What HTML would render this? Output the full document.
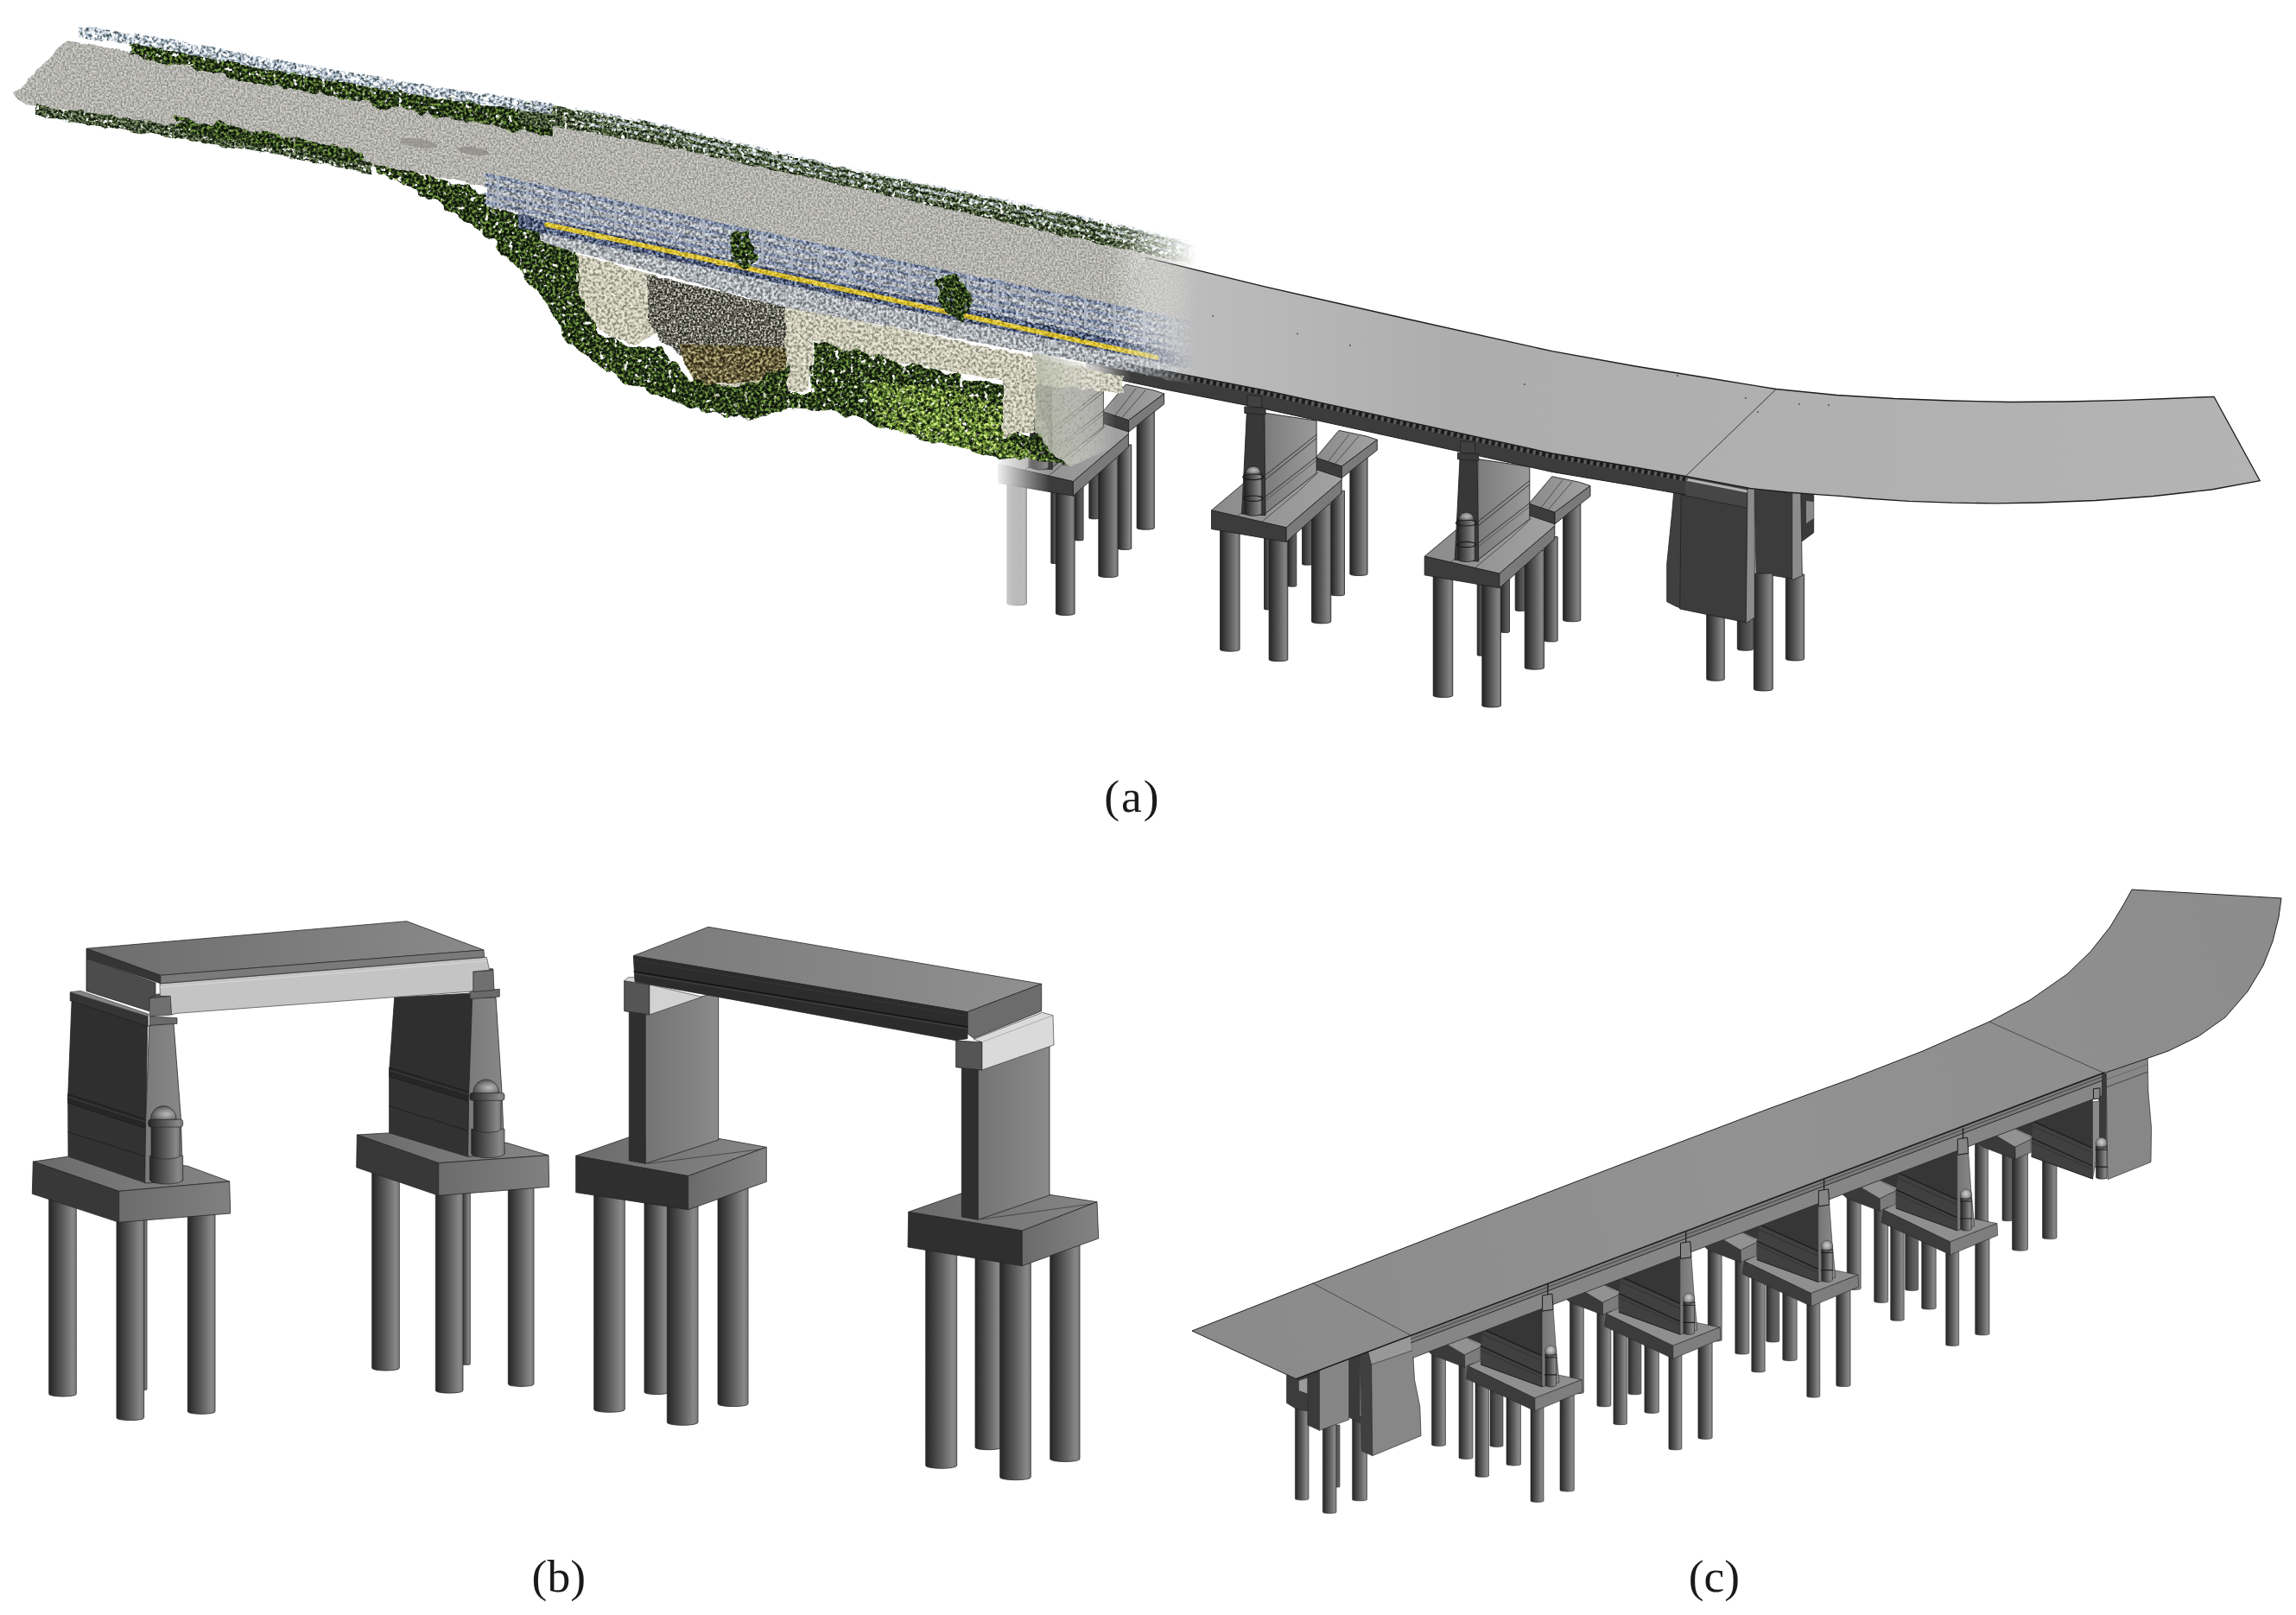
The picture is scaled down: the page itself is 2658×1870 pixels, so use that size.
<!DOCTYPE html>
<html><head><meta charset="utf-8"><title>Figure</title>
<style>
html,body{margin:0;padding:0;background:#fff;}
body{width:2658px;height:1870px;overflow:hidden;font-family:"Liberation Serif",serif;}
svg{display:block;position:absolute;left:0;top:0;}
text{font-family:"Liberation Serif",serif;fill:#1a1a1a;}
</style></head><body>
<svg width="2658" height="1870" viewBox="0 0 2658 1870">
<defs>

<linearGradient id="pile" x1="0" y1="0" x2="1" y2="0">
<stop offset="0" stop-color="#262626"/><stop offset="0.1" stop-color="#303030"/><stop offset="0.5" stop-color="#5c5c5c"/><stop offset="0.86" stop-color="#888888"/><stop offset="1" stop-color="#7a7a7a"/>
</linearGradient>
<radialGradient id="dome" cx="0.62" cy="0.6" r="0.65">
<stop offset="0" stop-color="#bababa"/><stop offset="0.45" stop-color="#8c8c8c"/><stop offset="1" stop-color="#4a4a4a"/>
</radialGradient>
<linearGradient id="topA" x1="0" y1="0" x2="1" y2="0">
<stop offset="0" stop-color="#6a6a6a"/><stop offset="1" stop-color="#868686"/>
</linearGradient>
<linearGradient id="sideA" x1="0" y1="0" x2="1" y2="0">
<stop offset="0" stop-color="#6c6c6c"/><stop offset="1" stop-color="#808080"/>
</linearGradient>
<linearGradient id="sideB" x1="0" y1="0" x2="1" y2="0">
<stop offset="0" stop-color="#6a6a6a"/><stop offset="1" stop-color="#848484"/>
</linearGradient>
<linearGradient id="pierF" x1="0" y1="0" x2="1" y2="0">
<stop offset="0" stop-color="#7a7a7a"/><stop offset="1" stop-color="#888888"/>
</linearGradient>
<linearGradient id="pierB" x1="0" y1="0" x2="1" y2="0">
<stop offset="0" stop-color="#747474"/><stop offset="1" stop-color="#8a8a8a"/>
</linearGradient>
<linearGradient id="deckA" x1="0" y1="0" x2="1" y2="0">
<stop offset="0" stop-color="#6c6c6c"/><stop offset="1" stop-color="#8a8a8a"/>
</linearGradient>
<linearGradient id="deckB" x1="0" y1="0" x2="1" y2="0">
<stop offset="0" stop-color="#7a7a7a"/><stop offset="1" stop-color="#909090"/>
</linearGradient>

<linearGradient id="pileD" x1="0" y1="0" x2="1" y2="0">
<stop offset="0" stop-color="#2a2a2a"/><stop offset="0.5" stop-color="#555"/><stop offset="1" stop-color="#6a6a6a"/>
</linearGradient>
<linearGradient id="cface" x1="0" y1="0" x2="1" y2="0">
<stop offset="0" stop-color="#757575"/><stop offset="1" stop-color="#8c8c8c"/>
</linearGradient>
<radialGradient id="domeC" cx="0.5" cy="0.4" r="0.6">
<stop offset="0" stop-color="#cfcfcf"/><stop offset="0.5" stop-color="#a0a0a0"/><stop offset="1" stop-color="#555"/>
</radialGradient>
<linearGradient id="deckC" gradientUnits="userSpaceOnUse" x1="1380" y1="1500" x2="2640" y2="1100">
<stop offset="0" stop-color="#8a8a8a"/><stop offset="0.5" stop-color="#929292"/><stop offset="1" stop-color="#8c8c8c"/>
</linearGradient>

<linearGradient id="pileA" x1="0" y1="0" x2="1" y2="0">
<stop offset="0" stop-color="#242424"/><stop offset="0.12" stop-color="#303030"/><stop offset="0.5" stop-color="#5a5a5a"/><stop offset="0.86" stop-color="#848484"/><stop offset="1" stop-color="#707070"/>
</linearGradient>
<linearGradient id="pileAD" x1="0" y1="0" x2="1" y2="0">
<stop offset="0" stop-color="#262626"/><stop offset="0.5" stop-color="#4c4c4c"/><stop offset="1" stop-color="#666"/>
</linearGradient>
<radialGradient id="domeA" cx="0.55" cy="0.5" r="0.6">
<stop offset="0" stop-color="#bdbdbd"/><stop offset="0.5" stop-color="#909090"/><stop offset="1" stop-color="#444"/>
</radialGradient>
<linearGradient id="ftopA" x1="0" y1="0" x2="1" y2="0">
<stop offset="0" stop-color="#8a8a8a"/><stop offset="1" stop-color="#a2a2a2"/>
</linearGradient>
<linearGradient id="wallA" x1="0" y1="0" x2="1" y2="0">
<stop offset="0" stop-color="#7c7c7c"/><stop offset="1" stop-color="#9a9a9a"/>
</linearGradient>
<linearGradient id="girderA" gradientUnits="userSpaceOnUse" x1="1240" y1="0" x2="1310" y2="0">
<stop offset="0" stop-color="#3c3c3c" stop-opacity="0"/><stop offset="1" stop-color="#3c3c3c" stop-opacity="1"/>
</linearGradient>
<linearGradient id="lineFade" gradientUnits="userSpaceOnUse" x1="1240" y1="0" x2="1310" y2="0">
<stop offset="0" stop-color="#1c1c1c" stop-opacity="0"/><stop offset="1" stop-color="#1c1c1c" stop-opacity="1"/>
</linearGradient>
<linearGradient id="deckA1" gradientUnits="userSpaceOnUse" x1="1285" y1="0" x2="2620" y2="0">
<stop offset="0" stop-color="#c4c4c4" stop-opacity="0"/><stop offset="0.075" stop-color="#bcbcbc" stop-opacity="1"/><stop offset="0.3" stop-color="#adadad"/><stop offset="1" stop-color="#b4b4b4"/>
</linearGradient>
<linearGradient id="fadeDeckG" gradientUnits="userSpaceOnUse" x1="1270" y1="0" x2="1360" y2="0">
<stop offset="0" stop-color="#000"/><stop offset="1" stop-color="#fff"/>
</linearGradient>
<mask id="fadeDeck" maskUnits="userSpaceOnUse" x="1200" y="200" width="1458" height="500"><rect x="1200" y="200" width="1458" height="500" fill="url(#fadeDeckG)"/></mask>
<linearGradient id="whiteFade" gradientUnits="userSpaceOnUse" x1="1150" y1="0" x2="1215" y2="0">
<stop offset="0" stop-color="#fff" stop-opacity="1"/><stop offset="1" stop-color="#fff" stop-opacity="0"/>
</linearGradient>
<filter id="fRoad" x="-5%" y="-5%" width="110%" height="110%" color-interpolation-filters="sRGB"><feTurbulence type="fractalNoise" baseFrequency="0.06" numOctaves="2" seed="14" result="d"/><feDisplacementMap in="SourceGraphic" in2="d" scale="5" xChannelSelector="R" yChannelSelector="G" result="shape"/><feTurbulence type="fractalNoise" baseFrequency="0.45" numOctaves="2" seed="3" result="n"/><feColorMatrix in="n" type="matrix" values="3.0 0 0 0 -1.0  3.0 0 0 0 -1.0  3.0 0 0 0 -1.0  0 0 0 0 1" result="g"/><feComponentTransfer in="g" result="col"><feFuncR type="table" tableValues="0.58 0.66 0.71 0.75 0.82"/><feFuncG type="table" tableValues="0.58 0.66 0.705 0.745 0.815"/><feFuncB type="table" tableValues="0.56 0.635 0.685 0.725 0.795"/></feComponentTransfer><feComposite in="col" in2="shape" operator="in" result="out"/></filter><filter id="fVeg" x="-5%" y="-5%" width="110%" height="110%" color-interpolation-filters="sRGB"><feTurbulence type="fractalNoise" baseFrequency="0.06" numOctaves="2" seed="19" result="d"/><feDisplacementMap in="SourceGraphic" in2="d" scale="14" xChannelSelector="R" yChannelSelector="G" result="shape"/><feTurbulence type="fractalNoise" baseFrequency="0.3" numOctaves="2" seed="8" result="n"/><feColorMatrix in="n" type="matrix" values="3.0 0 0 0 -1.0  3.0 0 0 0 -1.0  3.0 0 0 0 -1.0  0 0 0 0 1" result="g"/><feComponentTransfer in="g" result="col"><feFuncR type="table" tableValues="0.05 0.09 0.15 0.26 0.46"/><feFuncG type="table" tableValues="0.07 0.13 0.22 0.37 0.60"/><feFuncB type="table" tableValues="0.04 0.07 0.10 0.15 0.26"/></feComponentTransfer><feComposite in="col" in2="shape" operator="in" result="out"/><feTurbulence type="fractalNoise" baseFrequency="0.18" numOctaves="2" seed="13" result="h"/><feColorMatrix in="h" type="matrix" values="0 0 0 0 0  0 0 0 0 0  0 0 0 0 0  8 0 0 0 -2.0" result="ha"/><feComposite in="out" in2="ha" operator="in"/></filter><filter id="fVegL" x="-5%" y="-5%" width="110%" height="110%" color-interpolation-filters="sRGB"><feTurbulence type="fractalNoise" baseFrequency="0.06" numOctaves="2" seed="29" result="d"/><feDisplacementMap in="SourceGraphic" in2="d" scale="14" xChannelSelector="R" yChannelSelector="G" result="shape"/><feTurbulence type="fractalNoise" baseFrequency="0.3" numOctaves="2" seed="18" result="n"/><feColorMatrix in="n" type="matrix" values="3.0 0 0 0 -1.0  3.0 0 0 0 -1.0  3.0 0 0 0 -1.0  0 0 0 0 1" result="g"/><feComponentTransfer in="g" result="col"><feFuncR type="table" tableValues="0.20 0.35 0.50 0.65 0.85"/><feFuncG type="table" tableValues="0.30 0.48 0.65 0.78 0.92"/><feFuncB type="table" tableValues="0.10 0.18 0.25 0.35 0.55"/></feComponentTransfer><feComposite in="col" in2="shape" operator="in" result="out"/><feTurbulence type="fractalNoise" baseFrequency="0.18" numOctaves="2" seed="23" result="h"/><feColorMatrix in="h" type="matrix" values="0 0 0 0 0  0 0 0 0 0  0 0 0 0 0  6 0 0 0 -2.4000000000000004" result="ha"/><feComposite in="out" in2="ha" operator="in"/></filter><filter id="fVegD" x="-5%" y="-5%" width="110%" height="110%" color-interpolation-filters="sRGB"><feTurbulence type="fractalNoise" baseFrequency="0.06" numOctaves="2" seed="39" result="d"/><feDisplacementMap in="SourceGraphic" in2="d" scale="8" xChannelSelector="R" yChannelSelector="G" result="shape"/><feTurbulence type="fractalNoise" baseFrequency="0.35" numOctaves="2" seed="28" result="n"/><feColorMatrix in="n" type="matrix" values="3.0 0 0 0 -1.0  3.0 0 0 0 -1.0  3.0 0 0 0 -1.0  0 0 0 0 1" result="g"/><feComponentTransfer in="g" result="col"><feFuncR type="table" tableValues="0.08 0.15 0.25 0.36 0.55"/><feFuncG type="table" tableValues="0.10 0.20 0.32 0.44 0.60"/><feFuncB type="table" tableValues="0.07 0.12 0.20 0.30 0.45"/></feComponentTransfer><feComposite in="col" in2="shape" operator="in" result="out"/><feTurbulence type="fractalNoise" baseFrequency="0.21" numOctaves="2" seed="33" result="h"/><feColorMatrix in="h" type="matrix" values="0 0 0 0 0  0 0 0 0 0  0 0 0 0 0  8 0 0 0 -2.16" result="ha"/><feComposite in="out" in2="ha" operator="in"/></filter><filter id="fRock" x="-5%" y="-5%" width="110%" height="110%" color-interpolation-filters="sRGB"><feTurbulence type="fractalNoise" baseFrequency="0.06" numOctaves="2" seed="49" result="d"/><feDisplacementMap in="SourceGraphic" in2="d" scale="6" xChannelSelector="R" yChannelSelector="G" result="shape"/><feTurbulence type="fractalNoise" baseFrequency="0.3" numOctaves="2" seed="38" result="n"/><feColorMatrix in="n" type="matrix" values="3.0 0 0 0 -1.0  3.0 0 0 0 -1.0  3.0 0 0 0 -1.0  0 0 0 0 1" result="g"/><feComponentTransfer in="g" result="col"><feFuncR type="table" tableValues="0.55 0.70 0.80 0.86 0.92"/><feFuncG type="table" tableValues="0.55 0.70 0.79 0.85 0.91"/><feFuncB type="table" tableValues="0.48 0.62 0.72 0.78 0.85"/></feComponentTransfer><feComposite in="col" in2="shape" operator="in" result="out"/></filter><filter id="fDark" x="-5%" y="-5%" width="110%" height="110%" color-interpolation-filters="sRGB"><feTurbulence type="fractalNoise" baseFrequency="0.06" numOctaves="2" seed="59" result="d"/><feDisplacementMap in="SourceGraphic" in2="d" scale="6" xChannelSelector="R" yChannelSelector="G" result="shape"/><feTurbulence type="fractalNoise" baseFrequency="0.4" numOctaves="2" seed="48" result="n"/><feColorMatrix in="n" type="matrix" values="3.0 0 0 0 -1.0  3.0 0 0 0 -1.0  3.0 0 0 0 -1.0  0 0 0 0 1" result="g"/><feComponentTransfer in="g" result="col"><feFuncR type="table" tableValues="0.16 0.28 0.40 0.55 0.80"/><feFuncG type="table" tableValues="0.16 0.28 0.40 0.55 0.80"/><feFuncB type="table" tableValues="0.14 0.25 0.37 0.51 0.75"/></feComponentTransfer><feComposite in="col" in2="shape" operator="in" result="out"/></filter><filter id="fRail" x="-5%" y="-5%" width="110%" height="110%" color-interpolation-filters="sRGB"><feTurbulence type="fractalNoise" baseFrequency="0.06" numOctaves="2" seed="69" result="d"/><feDisplacementMap in="SourceGraphic" in2="d" scale="5" xChannelSelector="R" yChannelSelector="G" result="shape"/><feTurbulence type="fractalNoise" baseFrequency="0.3" numOctaves="2" seed="58" result="n"/><feColorMatrix in="n" type="matrix" values="3.0 0 0 0 -1.0  3.0 0 0 0 -1.0  3.0 0 0 0 -1.0  0 0 0 0 1" result="g"/><feComponentTransfer in="g" result="col"><feFuncR type="table" tableValues="0.30 0.50 0.68 0.82 0.95"/><feFuncG type="table" tableValues="0.36 0.56 0.73 0.86 0.97"/><feFuncB type="table" tableValues="0.38 0.60 0.78 0.90 0.99"/></feComponentTransfer><feComposite in="col" in2="shape" operator="in" result="out"/><feTurbulence type="fractalNoise" baseFrequency="0.18" numOctaves="2" seed="63" result="h"/><feColorMatrix in="h" type="matrix" values="0 0 0 0 0  0 0 0 0 0  0 0 0 0 0  6 0 0 0 -1.7999999999999998" result="ha"/><feComposite in="out" in2="ha" operator="in"/></filter><filter id="fRailN" x="-5%" y="-5%" width="110%" height="110%" color-interpolation-filters="sRGB"><feTurbulence type="fractalNoise" baseFrequency="0.06" numOctaves="2" seed="79" result="d"/><feDisplacementMap in="SourceGraphic" in2="d" scale="4" xChannelSelector="R" yChannelSelector="G" result="shape"/><feTurbulence type="fractalNoise" baseFrequency="0.3" numOctaves="2" seed="68" result="n"/><feColorMatrix in="n" type="matrix" values="3.0 0 0 0 -1.0  3.0 0 0 0 -1.0  3.0 0 0 0 -1.0  0 0 0 0 1" result="g"/><feComponentTransfer in="g" result="col"><feFuncR type="table" tableValues="0.40 0.55 0.66 0.74 0.86"/><feFuncG type="table" tableValues="0.42 0.57 0.68 0.76 0.88"/><feFuncB type="table" tableValues="0.44 0.60 0.71 0.79 0.90"/></feComponentTransfer><feComposite in="col" in2="shape" operator="in" result="out"/></filter><filter id="fRailW" x="-5%" y="-5%" width="110%" height="110%" color-interpolation-filters="sRGB"><feTurbulence type="fractalNoise" baseFrequency="0.06" numOctaves="2" seed="77" result="d"/><feDisplacementMap in="SourceGraphic" in2="d" scale="3" xChannelSelector="R" yChannelSelector="G" result="shape"/><feTurbulence type="fractalNoise" baseFrequency="0.3" numOctaves="2" seed="66" result="n"/><feColorMatrix in="n" type="matrix" values="3.0 0 0 0 -1.0  3.0 0 0 0 -1.0  3.0 0 0 0 -1.0  0 0 0 0 1" result="g"/><feComponentTransfer in="g" result="col"><feFuncR type="table" tableValues="0.45 0.65 0.80 0.90 0.98"/><feFuncG type="table" tableValues="0.50 0.70 0.84 0.93 0.99"/><feFuncB type="table" tableValues="0.52 0.73 0.87 0.95 1.0"/></feComponentTransfer><feComposite in="col" in2="shape" operator="in" result="out"/><feTurbulence type="fractalNoise" baseFrequency="0.18" numOctaves="2" seed="71" result="h"/><feColorMatrix in="h" type="matrix" values="0 0 0 0 0  0 0 0 0 0  0 0 0 0 0  6 0 0 0 -2.2800000000000002" result="ha"/><feComposite in="out" in2="ha" operator="in"/></filter><filter id="fRailL" x="-5%" y="-5%" width="110%" height="110%" color-interpolation-filters="sRGB"><feTurbulence type="fractalNoise" baseFrequency="0.06" numOctaves="2" seed="80" result="d"/><feDisplacementMap in="SourceGraphic" in2="d" scale="3" xChannelSelector="R" yChannelSelector="G" result="shape"/><feTurbulence type="fractalNoise" baseFrequency="0.3" numOctaves="2" seed="69" result="n"/><feColorMatrix in="n" type="matrix" values="3.0 0 0 0 -1.0  3.0 0 0 0 -1.0  3.0 0 0 0 -1.0  0 0 0 0 1" result="g"/><feComponentTransfer in="g" result="col"><feFuncR type="table" tableValues="0.15 0.28 0.40 0.55 0.75"/><feFuncG type="table" tableValues="0.20 0.34 0.48 0.62 0.80"/><feFuncB type="table" tableValues="0.30 0.48 0.64 0.78 0.92"/></feComponentTransfer><feComposite in="col" in2="shape" operator="in" result="out"/></filter><filter id="fGirdL" x="-5%" y="-5%" width="110%" height="110%" color-interpolation-filters="sRGB"><feTurbulence type="fractalNoise" baseFrequency="0.06" numOctaves="2" seed="81" result="d"/><feDisplacementMap in="SourceGraphic" in2="d" scale="3" xChannelSelector="R" yChannelSelector="G" result="shape"/><feTurbulence type="fractalNoise" baseFrequency="0.3" numOctaves="2" seed="70" result="n"/><feColorMatrix in="n" type="matrix" values="3.0 0 0 0 -1.0  3.0 0 0 0 -1.0  3.0 0 0 0 -1.0  0 0 0 0 1" result="g"/><feComponentTransfer in="g" result="col"><feFuncR type="table" tableValues="0.45 0.58 0.68 0.76 0.88"/><feFuncG type="table" tableValues="0.46 0.60 0.70 0.78 0.90"/><feFuncB type="table" tableValues="0.48 0.62 0.72 0.80 0.92"/></feComponentTransfer><feComposite in="col" in2="shape" operator="in" result="out"/></filter><filter id="fBrown" x="-5%" y="-5%" width="110%" height="110%" color-interpolation-filters="sRGB"><feTurbulence type="fractalNoise" baseFrequency="0.06" numOctaves="2" seed="82" result="d"/><feDisplacementMap in="SourceGraphic" in2="d" scale="6" xChannelSelector="R" yChannelSelector="G" result="shape"/><feTurbulence type="fractalNoise" baseFrequency="0.3" numOctaves="2" seed="71" result="n"/><feColorMatrix in="n" type="matrix" values="3.0 0 0 0 -1.0  3.0 0 0 0 -1.0  3.0 0 0 0 -1.0  0 0 0 0 1" result="g"/><feComponentTransfer in="g" result="col"><feFuncR type="table" tableValues="0.18 0.28 0.40 0.54 0.74"/><feFuncG type="table" tableValues="0.16 0.26 0.37 0.50 0.70"/><feFuncB type="table" tableValues="0.09 0.15 0.24 0.34 0.52"/></feComponentTransfer><feComposite in="col" in2="shape" operator="in" result="out"/></filter><filter id="fGird" x="-5%" y="-5%" width="110%" height="110%" color-interpolation-filters="sRGB"><feTurbulence type="fractalNoise" baseFrequency="0.06" numOctaves="2" seed="89" result="d"/><feDisplacementMap in="SourceGraphic" in2="d" scale="3" xChannelSelector="R" yChannelSelector="G" result="shape"/><feTurbulence type="fractalNoise" baseFrequency="0.3" numOctaves="2" seed="78" result="n"/><feColorMatrix in="n" type="matrix" values="3.0 0 0 0 -1.0  3.0 0 0 0 -1.0  3.0 0 0 0 -1.0  0 0 0 0 1" result="g"/><feComponentTransfer in="g" result="col"><feFuncR type="table" tableValues="0.12 0.22 0.32 0.44 0.62"/><feFuncG type="table" tableValues="0.15 0.26 0.37 0.50 0.68"/><feFuncB type="table" tableValues="0.22 0.36 0.50 0.62 0.78"/></feComponentTransfer><feComposite in="col" in2="shape" operator="in" result="out"/></filter><filter id="fYel" x="-5%" y="-5%" width="110%" height="110%" color-interpolation-filters="sRGB"><feTurbulence type="fractalNoise" baseFrequency="0.06" numOctaves="2" seed="99" result="d"/><feDisplacementMap in="SourceGraphic" in2="d" scale="2" xChannelSelector="R" yChannelSelector="G" result="shape"/><feTurbulence type="fractalNoise" baseFrequency="0.3" numOctaves="2" seed="88" result="n"/><feColorMatrix in="n" type="matrix" values="3.0 0 0 0 -1.0  3.0 0 0 0 -1.0  3.0 0 0 0 -1.0  0 0 0 0 1" result="g"/><feComponentTransfer in="g" result="col"><feFuncR type="table" tableValues="0.70 0.80 0.86 0.90 0.95"/><feFuncG type="table" tableValues="0.60 0.70 0.76 0.80 0.86"/><feFuncB type="table" tableValues="0.10 0.15 0.20 0.25 0.40"/></feComponentTransfer><feComposite in="col" in2="shape" operator="in" result="out"/></filter>
<linearGradient id="pcMaskG" gradientUnits="userSpaceOnUse" x1="1285" y1="0" x2="1385" y2="0">
<stop offset="0" stop-color="#fff"/><stop offset="1" stop-color="#000"/>
</linearGradient>
<mask id="pcMask" maskUnits="userSpaceOnUse" x="0" y="0" width="1500" height="700"><rect x="0" y="0" width="1500" height="700" fill="url(#pcMaskG)"/></mask>
<linearGradient id="veil" gradientUnits="userSpaceOnUse" x1="1200" y1="0" x2="1292" y2="0">
<stop offset="0" stop-color="#b4b8a6" stop-opacity="0.9"/><stop offset="0.5" stop-color="#b4b8a6" stop-opacity="0.6"/><stop offset="1" stop-color="#b4b8a6" stop-opacity="0"/>
</linearGradient>
<filter id="fVeil" x="-5%" y="-5%" width="110%" height="110%"><feTurbulence type="fractalNoise" baseFrequency="0.3" numOctaves="2" seed="4" result="n"/>
<feColorMatrix in="n" type="matrix" values="0.9 0 0 0 0.5  0.9 0 0 0 0.5  0.9 0 0 0 0.45  0 0 0 0 1" result="g"/>
<feBlend in="SourceGraphic" in2="g" mode="multiply" result="b"/><feComposite in="b" in2="SourceGraphic" operator="in"/></filter>


</defs>
<g id="panel_a">
<g id="modelA">
<path d="M2011.3,715.0 L2011.3,751.6 A9.2,1.7 0 0 0 2029.7,751.6 L2029.7,715.0 Z" fill="url(#pileAD)" stroke="#202020" stroke-width="0.80" stroke-linejoin="round" />
<path d="M1975.7,708.0 L1975.7,786.4 A10.3,1.9 0 0 0 1996.3,786.4 L1996.3,708.0 Z" fill="url(#pileA)" stroke="#202020" stroke-width="0.80" stroke-linejoin="round" />
<path d="M2067.3,665.0 L2067.3,763.1 A10.7,1.9 0 0 0 2088.7,763.1 L2088.7,665.0 Z" fill="url(#pileA)" stroke="#202020" stroke-width="0.80" stroke-linejoin="round" />
<polygon points="2084.7,570.0 2099.7,572.0 2099.7,616.7 2086.3,626.7" fill="#3a3a3a" stroke="#222" stroke-width="0.80" stroke-linejoin="round" />
<polygon points="2091.0,580.0 2099.7,581.0 2099.7,600.0 2091.0,606.0" fill="#8a8a8a" />
<polygon points="2031.3,560.0 2074.7,566.0 2074.7,670.0 2033.0,663.3" fill="#3c3c3c" stroke="#222" stroke-width="0.80" stroke-linejoin="round" />
<polygon points="2074.7,566.0 2084.7,566.0 2086.3,666.7 2074.7,671.7" fill="#8c8c8c" stroke="#222" stroke-width="0.80" stroke-linejoin="round" />
<path d="M2030.3,664.0 L2030.3,798.0 A11.0,2.0 0 0 0 2052.3,798.0 L2052.3,664.0 Z" fill="url(#pileA)" stroke="#202020" stroke-width="0.80" stroke-linejoin="round" />
<polygon points="1929.7,696.7 1929.7,653.0 1936.0,590.0 1938.0,566.0 1948.0,556.0 1948.0,705.0 1940.0,702.0" fill="#404040" stroke="#222" stroke-width="0.80" stroke-linejoin="round" />
<polygon points="1946.3,560.0 2023.0,575.0 2021.3,720.7 1944.7,705.0" fill="#3c3c3c" stroke="#222" stroke-width="0.90" stroke-linejoin="round" />
<polygon points="1948.0,550.0 2023.0,565.0 2023.0,588.3 1948.0,573.3" fill="#464646" stroke="#222" stroke-width="0.80" stroke-linejoin="round" />
<polygon points="1951.5,553.5 2023.0,567.5 2023.0,570.5 1951.5,556.5" fill="#b4b4b4" />
<polygon points="2023.0,566.0 2031.3,564.0 2031.3,715.0 2021.3,721.7" fill="#8c8c8c" stroke="#222" stroke-width="0.80" stroke-linejoin="round" />
<path d="M1787.5,621.5 L1787.5,741.8 A7.9,1.4 0 0 0 1803.2,741.8 L1803.2,621.5 Z" fill="url(#pileA)" stroke="#202020" stroke-width="0.80" stroke-linejoin="round" />
<path d="M1754.2,652.5 L1754.2,706.5 A5.8,1.0 0 0 0 1765.8,706.5 L1765.8,652.5 Z" fill="url(#pileAD)" stroke="#202020" stroke-width="0.80" stroke-linejoin="round" />
<path d="M1765.2,637.5 L1765.2,773.2 A11.1,2.0 0 0 0 1787.5,773.2 L1787.5,637.5 Z" fill="url(#pileA)" stroke="#202020" stroke-width="0.80" stroke-linejoin="round" />
<path d="M1737.5,667.5 L1737.5,731.6 A5.0,0.9 0 0 0 1747.5,731.6 L1747.5,667.5 Z" fill="url(#pileAD)" stroke="#202020" stroke-width="0.80" stroke-linejoin="round" />
<path d="M1710.2,672.5 L1710.2,758.5 A3.6,0.7 0 0 0 1717.5,758.5 L1717.5,672.5 Z" fill="url(#pileAD)" stroke="#202020" stroke-width="0.80" stroke-linejoin="round" />
<path d="M1715.8,675.5 L1715.8,817.2 A10.9,2.0 0 0 0 1737.5,817.2 L1737.5,675.5 Z" fill="url(#pileA)" stroke="#202020" stroke-width="0.80" stroke-linejoin="round" />
<path d="M1659.2,659.5 L1659.2,805.5 A11.3,2.0 0 0 0 1681.8,805.5 L1681.8,659.5 Z" fill="url(#pileA)" stroke="#202020" stroke-width="0.80" stroke-linejoin="round" />
<polygon points="1649.2,644.2 1685.8,613.5 1770.0,595.5 1800.0,605.5 1799.8,609.2 1735.8,664.2" fill="url(#ftopA)" stroke="#222" stroke-width="0.90" stroke-linejoin="round" />
<polyline points="1679.5,651.0 1717.5,617.5 1742.5,595.5" fill="none" stroke="#333" stroke-width="0.70" stroke-linecap="round" stroke-linejoin="round" />
<polyline points="1707.5,657.5 1749.5,622.5 1772.5,600.5" fill="none" stroke="#333" stroke-width="0.70" stroke-linecap="round" stroke-linejoin="round" />
<polygon points="1649.2,644.2 1735.8,664.2 1735.8,680.8 1649.2,665.8" fill="#3c3c3c" stroke="#222" stroke-width="0.90" stroke-linejoin="round" />
<polygon points="1735.8,664.2 1799.8,609.2 1799.8,624.2 1735.8,680.8" fill="#7a7a7a" stroke="#222" stroke-width="0.90" stroke-linejoin="round" />
<path d="M1809.5,582.5 L1809.5,718.0 A10.1,1.8 0 0 0 1829.8,718.0 L1829.8,582.5 Z" fill="url(#pileA)" stroke="#202020" stroke-width="0.80" stroke-linejoin="round" />
<polygon points="1770.0,583.3 1796.7,551.7 1828.3,558.3 1841.0,562.5 1800.0,593.3" fill="url(#ftopA)" stroke="#222" stroke-width="0.90" stroke-linejoin="round" />
<polyline points="1783.5,588.5 1808.5,556.5" fill="none" stroke="#333" stroke-width="0.70" stroke-linecap="round" stroke-linejoin="round" />
<polyline points="1791.5,591.0 1819.5,558.5" fill="none" stroke="#333" stroke-width="0.70" stroke-linecap="round" stroke-linejoin="round" />
<polygon points="1770.0,583.3 1800.0,593.3 1800.0,606.7 1770.0,596.7" fill="#3c3c3c" stroke="#222" stroke-width="0.90" stroke-linejoin="round" />
<polygon points="1800.0,593.3 1841.0,562.5 1841.0,574.5 1800.0,606.7" fill="#7a7a7a" stroke="#222" stroke-width="0.90" stroke-linejoin="round" />
<polygon points="1710.8,531.5 1770.8,540.5 1770.8,600.8 1710.8,648.5" fill="url(#wallA)" stroke="#222" stroke-width="0.90" stroke-linejoin="round" />
<polyline points="1710.8,604.2 1770.8,556.5" fill="none" stroke="#2a2a2a" stroke-width="0.90" stroke-linecap="round" stroke-linejoin="round" />
<polyline points="1710.8,609.2 1770.8,560.8" fill="none" stroke="#2a2a2a" stroke-width="0.90" stroke-linecap="round" stroke-linejoin="round" />
<polyline points="1710.8,629.2 1770.8,582.5" fill="none" stroke="#2a2a2a" stroke-width="0.90" stroke-linecap="round" stroke-linejoin="round" />
<polyline points="1710.8,633.5 1770.8,586.5" fill="none" stroke="#444" stroke-width="0.70" stroke-linecap="round" stroke-linejoin="round" />
<polygon points="1690.0,531.7 1710.0,533.3 1711.7,650.0 1684.2,648.3 1686.7,600.0" fill="#383838" stroke="#222" stroke-width="0.90" stroke-linejoin="round" />
<path d="M1687.5,600.5 L1687.5,647.5 A10,3 0 0 0 1707.5,647.5 L1707.5,600.5 Z" fill="url(#pileA)" stroke="#222" stroke-width="0.80" stroke-linejoin="round" />
<ellipse cx="1697.5" cy="605.5" rx="12" ry="3.5" fill="none" stroke="#1a1a1a" stroke-width="1.2"/>
<ellipse cx="1697.5" cy="630.5" rx="11" ry="3.2" fill="none" stroke="#1a1a1a" stroke-width="1.2"/>
<path d="M1688.5,602.5 A9,9.5 0 0 1 1706.5,602.5 Z" fill="url(#domeA)" stroke="#222" stroke-width="0.80" stroke-linejoin="round" />
<path d="M1540.8,568.2 L1540.8,688.5 A7.9,1.4 0 0 0 1556.5,688.5 L1556.5,568.2 Z" fill="url(#pileA)" stroke="#202020" stroke-width="0.80" stroke-linejoin="round" />
<path d="M1507.5,599.2 L1507.5,653.2 A5.8,1.0 0 0 0 1519.1,653.2 L1519.1,599.2 Z" fill="url(#pileAD)" stroke="#202020" stroke-width="0.80" stroke-linejoin="round" />
<path d="M1518.5,584.2 L1518.5,719.9 A11.1,2.0 0 0 0 1540.8,719.9 L1540.8,584.2 Z" fill="url(#pileA)" stroke="#202020" stroke-width="0.80" stroke-linejoin="round" />
<path d="M1490.8,614.2 L1490.8,678.3 A5.0,0.9 0 0 0 1500.8,678.3 L1500.8,614.2 Z" fill="url(#pileAD)" stroke="#202020" stroke-width="0.80" stroke-linejoin="round" />
<path d="M1463.5,619.2 L1463.5,705.2 A3.6,0.7 0 0 0 1470.8,705.2 L1470.8,619.2 Z" fill="url(#pileAD)" stroke="#202020" stroke-width="0.80" stroke-linejoin="round" />
<path d="M1469.1,622.2 L1469.1,763.9 A10.9,2.0 0 0 0 1490.8,763.9 L1490.8,622.2 Z" fill="url(#pileA)" stroke="#202020" stroke-width="0.80" stroke-linejoin="round" />
<path d="M1412.5,606.2 L1412.5,752.2 A11.3,2.0 0 0 0 1435.1,752.2 L1435.1,606.2 Z" fill="url(#pileA)" stroke="#202020" stroke-width="0.80" stroke-linejoin="round" />
<polygon points="1402.5,590.9 1439.1,560.2 1523.3,542.2 1553.3,552.2 1553.1,555.9 1489.1,610.9" fill="url(#ftopA)" stroke="#222" stroke-width="0.90" stroke-linejoin="round" />
<polyline points="1432.8,597.7 1470.8,564.2 1495.8,542.2" fill="none" stroke="#333" stroke-width="0.70" stroke-linecap="round" stroke-linejoin="round" />
<polyline points="1460.8,604.2 1502.8,569.2 1525.8,547.2" fill="none" stroke="#333" stroke-width="0.70" stroke-linecap="round" stroke-linejoin="round" />
<polygon points="1402.5,590.9 1489.1,610.9 1489.1,627.5 1402.5,612.5" fill="#3c3c3c" stroke="#222" stroke-width="0.90" stroke-linejoin="round" />
<polygon points="1489.1,610.9 1553.1,555.9 1553.1,570.9 1489.1,627.5" fill="#7a7a7a" stroke="#222" stroke-width="0.90" stroke-linejoin="round" />
<path d="M1562.8,529.2 L1562.8,664.7 A10.1,1.8 0 0 0 1583.1,664.7 L1583.1,529.2 Z" fill="url(#pileA)" stroke="#202020" stroke-width="0.80" stroke-linejoin="round" />
<polygon points="1523.3,530.0 1550.0,498.4 1581.6,505.0 1594.3,509.2 1553.3,540.0" fill="url(#ftopA)" stroke="#222" stroke-width="0.90" stroke-linejoin="round" />
<polyline points="1536.8,535.2 1561.8,503.2" fill="none" stroke="#333" stroke-width="0.70" stroke-linecap="round" stroke-linejoin="round" />
<polyline points="1544.8,537.7 1572.8,505.2" fill="none" stroke="#333" stroke-width="0.70" stroke-linecap="round" stroke-linejoin="round" />
<polygon points="1523.3,530.0 1553.3,540.0 1553.3,553.4 1523.3,543.4" fill="#3c3c3c" stroke="#222" stroke-width="0.90" stroke-linejoin="round" />
<polygon points="1553.3,540.0 1594.3,509.2 1594.3,521.2 1553.3,553.4" fill="#7a7a7a" stroke="#222" stroke-width="0.90" stroke-linejoin="round" />
<polygon points="1464.1,478.2 1524.1,487.2 1524.1,547.5 1464.1,595.2" fill="url(#wallA)" stroke="#222" stroke-width="0.90" stroke-linejoin="round" />
<polyline points="1464.1,550.9 1524.1,503.2" fill="none" stroke="#2a2a2a" stroke-width="0.90" stroke-linecap="round" stroke-linejoin="round" />
<polyline points="1464.1,555.9 1524.1,507.5" fill="none" stroke="#2a2a2a" stroke-width="0.90" stroke-linecap="round" stroke-linejoin="round" />
<polyline points="1464.1,575.9 1524.1,529.2" fill="none" stroke="#2a2a2a" stroke-width="0.90" stroke-linecap="round" stroke-linejoin="round" />
<polyline points="1464.1,580.2 1524.1,533.2" fill="none" stroke="#444" stroke-width="0.70" stroke-linecap="round" stroke-linejoin="round" />
<polygon points="1443.3,478.4 1463.3,480.0 1465.0,596.7 1437.5,595.0 1440.0,546.7" fill="#383838" stroke="#222" stroke-width="0.90" stroke-linejoin="round" />
<path d="M1440.8,547.2 L1440.8,594.2 A10,3 0 0 0 1460.8,594.2 L1460.8,547.2 Z" fill="url(#pileA)" stroke="#222" stroke-width="0.80" stroke-linejoin="round" />
<ellipse cx="1450.8" cy="552.2" rx="12" ry="3.5" fill="none" stroke="#1a1a1a" stroke-width="1.2"/>
<ellipse cx="1450.8" cy="577.2" rx="11" ry="3.2" fill="none" stroke="#1a1a1a" stroke-width="1.2"/>
<path d="M1441.8,549.2 A9,9.5 0 0 1 1459.8,549.2 Z" fill="url(#domeA)" stroke="#222" stroke-width="0.80" stroke-linejoin="round" />
<path d="M1294.1,514.9 L1294.1,635.2 A7.9,1.4 0 0 0 1309.8,635.2 L1309.8,514.9 Z" fill="url(#pileA)" stroke="#202020" stroke-width="0.80" stroke-linejoin="round" />
<path d="M1260.8,545.9 L1260.8,599.9 A5.8,1.0 0 0 0 1272.4,599.9 L1272.4,545.9 Z" fill="url(#pileAD)" stroke="#202020" stroke-width="0.80" stroke-linejoin="round" />
<path d="M1271.8,530.9 L1271.8,666.6 A11.1,2.0 0 0 0 1294.1,666.6 L1294.1,530.9 Z" fill="url(#pileA)" stroke="#202020" stroke-width="0.80" stroke-linejoin="round" />
<path d="M1244.1,560.9 L1244.1,625.0 A5.0,0.9 0 0 0 1254.1,625.0 L1254.1,560.9 Z" fill="url(#pileAD)" stroke="#202020" stroke-width="0.80" stroke-linejoin="round" />
<path d="M1216.8,565.9 L1216.8,651.9 A3.6,0.7 0 0 0 1224.1,651.9 L1224.1,565.9 Z" fill="url(#pileAD)" stroke="#202020" stroke-width="0.80" stroke-linejoin="round" />
<path d="M1222.4,568.9 L1222.4,710.6 A10.9,2.0 0 0 0 1244.1,710.6 L1244.1,568.9 Z" fill="url(#pileA)" stroke="#202020" stroke-width="0.80" stroke-linejoin="round" />
<path d="M1165.8,552.9 L1165.8,698.9 A11.3,2.0 0 0 0 1188.4,698.9 L1188.4,552.9 Z" fill="url(#pileA)" stroke="#202020" stroke-width="0.80" stroke-linejoin="round" />
<polygon points="1155.8,537.6 1192.4,506.9 1276.6,488.9 1306.6,498.9 1306.4,502.6 1242.4,557.6" fill="url(#ftopA)" stroke="#222" stroke-width="0.90" stroke-linejoin="round" />
<polyline points="1186.1,544.4 1224.1,510.9 1249.1,488.9" fill="none" stroke="#333" stroke-width="0.70" stroke-linecap="round" stroke-linejoin="round" />
<polyline points="1214.1,550.9 1256.1,515.9 1279.1,493.9" fill="none" stroke="#333" stroke-width="0.70" stroke-linecap="round" stroke-linejoin="round" />
<polygon points="1155.8,537.6 1242.4,557.6 1242.4,574.2 1155.8,559.2" fill="#3c3c3c" stroke="#222" stroke-width="0.90" stroke-linejoin="round" />
<polygon points="1242.4,557.6 1306.4,502.6 1306.4,517.6 1242.4,574.2" fill="#7a7a7a" stroke="#222" stroke-width="0.90" stroke-linejoin="round" />
<path d="M1316.1,475.9 L1316.1,611.4 A10.1,1.8 0 0 0 1336.4,611.4 L1336.4,475.9 Z" fill="url(#pileA)" stroke="#202020" stroke-width="0.80" stroke-linejoin="round" />
<polygon points="1276.6,476.7 1303.3,445.1 1334.9,451.7 1347.6,455.9 1306.6,486.7" fill="url(#ftopA)" stroke="#222" stroke-width="0.90" stroke-linejoin="round" />
<polyline points="1290.1,481.9 1315.1,449.9" fill="none" stroke="#333" stroke-width="0.70" stroke-linecap="round" stroke-linejoin="round" />
<polyline points="1298.1,484.4 1326.1,451.9" fill="none" stroke="#333" stroke-width="0.70" stroke-linecap="round" stroke-linejoin="round" />
<polygon points="1276.6,476.7 1306.6,486.7 1306.6,500.1 1276.6,490.1" fill="#3c3c3c" stroke="#222" stroke-width="0.90" stroke-linejoin="round" />
<polygon points="1306.6,486.7 1347.6,455.9 1347.6,467.9 1306.6,500.1" fill="#7a7a7a" stroke="#222" stroke-width="0.90" stroke-linejoin="round" />
<polygon points="1217.4,424.9 1277.4,433.9 1277.4,494.2 1217.4,541.9" fill="url(#wallA)" stroke="#222" stroke-width="0.90" stroke-linejoin="round" />
<polyline points="1217.4,497.6 1277.4,449.9" fill="none" stroke="#2a2a2a" stroke-width="0.90" stroke-linecap="round" stroke-linejoin="round" />
<polyline points="1217.4,502.6 1277.4,454.2" fill="none" stroke="#2a2a2a" stroke-width="0.90" stroke-linecap="round" stroke-linejoin="round" />
<polyline points="1217.4,522.6 1277.4,475.9" fill="none" stroke="#2a2a2a" stroke-width="0.90" stroke-linecap="round" stroke-linejoin="round" />
<polyline points="1217.4,526.9 1277.4,479.9" fill="none" stroke="#444" stroke-width="0.70" stroke-linecap="round" stroke-linejoin="round" />
<polygon points="1196.6,425.1 1216.6,426.7 1218.3,543.4 1190.8,541.7 1193.3,493.4" fill="#383838" stroke="#222" stroke-width="0.90" stroke-linejoin="round" />
<path d="M1194.1,493.9 L1194.1,540.9 A10,3 0 0 0 1214.1,540.9 L1214.1,493.9 Z" fill="url(#pileA)" stroke="#222" stroke-width="0.80" stroke-linejoin="round" />
<ellipse cx="1204.1" cy="498.9" rx="12" ry="3.5" fill="none" stroke="#1a1a1a" stroke-width="1.2"/>
<ellipse cx="1204.1" cy="523.9" rx="11" ry="3.2" fill="none" stroke="#1a1a1a" stroke-width="1.2"/>
<path d="M1195.1,495.9 A9,9.5 0 0 1 1213.1,495.9 Z" fill="url(#domeA)" stroke="#222" stroke-width="0.80" stroke-linejoin="round" />
<polygon points="1257.0,410.0 1343.0,428.3 1463.0,451.7 1630.0,488.3 1797.0,525.0 1895.0,541.5 1951.3,551.5 1951.3,573.0 1895.0,563.0 1797.0,546.5 1630.0,509.8 1463.0,473.2 1343.0,449.8 1257.0,431.5" fill="url(#girderA)" />
<polyline points="1257.0,431.5 1343.0,449.8 1463.0,473.2 1630.0,509.8 1797.0,546.5 1895.0,563.0 1951.3,573.0" fill="none" stroke="url(#lineFade)" stroke-width="1.00" stroke-linecap="round" stroke-linejoin="round" />
<polyline points="1257.0,413.0 1343.0,431.3 1463.0,454.7 1630.0,491.3 1797.0,528.0 1895.0,544.5 1951.3,554.5" fill="none" stroke="#5c5c5c" stroke-width="5.50" stroke-linecap="round" stroke-linejoin="round" mask="url(#fadeDeck)"/>
<polyline points="1257.0,413.0 1343.0,431.3 1463.0,454.7 1630.0,491.3 1797.0,528.0 1895.0,544.5 1951.3,554.5" fill="none" stroke="#1c1c1c" stroke-width="5.50" stroke-linecap="butt" stroke-linejoin="round" stroke-dasharray="4.2 3.3" mask="url(#fadeDeck)"/>
<polygon points="1440.8,470.9 1465.0,472.5 1465.0,480.0 1440.8,478.4" fill="#3a3a3a" stroke="#222" stroke-width="0.90" stroke-linejoin="round" />
<polygon points="1444.1,457.2 1460.8,458.7 1460.8,471.7 1444.1,470.9" fill="#404040" stroke="#222" stroke-width="0.90" stroke-linejoin="round" />
<polygon points="1687.5,524.2 1711.7,525.8 1711.7,533.3 1687.5,531.7" fill="#3a3a3a" stroke="#222" stroke-width="0.90" stroke-linejoin="round" />
<polygon points="1690.8,510.5 1707.5,512.0 1707.5,525.0 1690.8,524.2" fill="#404040" stroke="#222" stroke-width="0.90" stroke-linejoin="round" />
<polygon points="1326.7,298.3 1463.0,331.7 1630.0,369.5 1797.0,406.7 1893.0,424.0 1976.3,437.5 2056.3,450.5 2126.3,457.5 2193.0,461.5 2259.7,464.0 2326.3,465.5 2393.0,465.0 2459.7,463.3 2509.7,461.5 2563.0,459.3 2616.3,556.7 2559.7,567.0 2493.0,574.5 2426.3,579.5 2359.7,582.0 2309.7,582.8 2259.7,582.2 2209.7,580.3 2159.7,577.0 2130.0,574.3 2104.0,572.7 2069.4,570.0 2026.0,565.5 1951.3,551.5 1895.0,541.5 1797.0,525.0 1630.0,488.3 1463.0,451.7 1343.0,428.3 1257.0,410.0" fill="url(#deckA1)" />
<polyline points="1326.7,298.3 1463.0,331.7 1630.0,369.5 1797.0,406.7 1893.0,424.0 1976.3,437.5 2056.3,450.5 2126.3,457.5 2193.0,461.5 2259.7,464.0 2326.3,465.5 2393.0,465.0 2459.7,463.3 2509.7,461.5 2563.0,459.3 2616.3,556.7 2559.7,567.0 2493.0,574.5 2426.3,579.5 2359.7,582.0 2309.7,582.8 2259.7,582.2 2209.7,580.3 2159.7,577.0 2130.0,574.3 2104.0,572.7 2069.4,570.0 2026.0,565.5 1951.3,551.5 1895.0,541.5 1797.0,525.0 1630.0,488.3 1463.0,451.7 1343.0,428.3" fill="none" stroke="#1c1c1c" stroke-width="1.30" stroke-linecap="round" stroke-linejoin="round" mask="url(#fadeDeck)"/>
<polyline points="2056.3,450.5 1951.3,551.5" fill="none" stroke="#2a2a2a" stroke-width="0.90" stroke-linecap="round" stroke-linejoin="round" />
<circle cx="1404.0" cy="366.0" r="1" fill="#555"/>
<circle cx="1502.0" cy="386.5" r="1" fill="#555"/>
<circle cx="1563.0" cy="400.0" r="1" fill="#555"/>
<circle cx="1765.0" cy="445.0" r="1" fill="#555"/>
<circle cx="1942.0" cy="435.0" r="1" fill="#555"/>
<circle cx="2021.0" cy="461.0" r="1" fill="#555"/>
<circle cx="2035.0" cy="477.0" r="1" fill="#555"/>
<circle cx="2083.0" cy="468.0" r="1" fill="#555"/>
<circle cx="2117.0" cy="469.0" r="1" fill="#555"/>
</g>
<rect x="1140" y="520" width="80" height="260" fill="url(#whiteFade)"/>
<g id="pcloud" mask="url(#pcMask)">
<polygon points="660.0,292.0 760.0,319.0 760.0,385.0 735.0,400.0 690.0,380.0 668.0,340.0" fill="#c9c6ba" filter="url(#fRock)"/>
<polygon points="750.0,318.0 912.0,356.0 912.0,418.0 860.0,425.0 800.0,418.0 765.0,395.0 750.0,370.0" fill="#4c4c46" filter="url(#fDark)"/>
<polygon points="936.0,358.0 1170.0,408.0 1300.0,436.0 1300.0,455.0 1170.0,442.0 1060.0,423.0 960.0,403.0 938.0,392.0" fill="#a9ad98" filter="url(#fRock)"/>
<polygon points="1195.0,408.0 1295.0,430.0 1295.0,515.0 1240.0,540.0 1215.0,525.0 1198.0,500.0" fill="url(#veil)" filter="url(#fVeil)"/>
<polygon points="785.0,398.0 912.0,402.0 912.0,455.0 860.0,472.0 810.0,458.0" fill="#7d7454" filter="url(#fBrown)"/>
<polygon points="820.0,445.0 905.0,440.0 912.0,470.0 870.0,482.0 830.0,470.0" fill="#c6c2ae" filter="url(#fRock)"/>
<polygon points="908.0,354.0 942.0,362.0 940.0,430.0 936.0,452.0 912.0,452.0 910.0,420.0" fill="#cfccc2" filter="url(#fRock)"/>
<polygon points="1162.0,410.0 1200.0,418.0 1198.0,500.0 1160.0,505.0 1160.0,460.0" fill="#cfccc2" filter="url(#fRock)"/>
<polygon points="416.0,186.0 470.0,196.0 560.0,222.0 600.0,248.0 640.0,270.0 668.0,292.0 672.0,340.0 690.0,385.0 735.0,403.0 765.0,402.0 800.0,442.0 860.0,448.0 912.0,424.0 914.0,455.0 938.0,455.0 942.0,395.0 1010.0,412.0 1060.0,424.0 1130.0,440.0 1160.0,445.0 1160.0,505.0 1200.0,502.0 1215.0,520.0 1233.0,536.0 1166.0,530.0 1083.0,512.0 1000.0,486.0 950.0,476.0 916.0,474.0 866.0,486.0 800.0,472.0 733.0,446.0 690.0,420.0 660.0,398.0 630.0,350.0 606.0,318.0 560.0,270.0 500.0,230.0 450.0,205.0" fill="#3f5a2a" filter="url(#fVeg)"/>
<polygon points="1000.0,440.0 1100.0,450.0 1160.0,470.0 1160.0,510.0 1230.0,535.0 1166.0,530.0 1083.0,512.0 1020.0,490.0" fill="#7a9a4a" filter="url(#fVegL)"/>
<polygon points="15.0,110.0 76.7,46.7 160.0,61.7 283.0,88.3 433.0,116.7 533.0,136.7 667.0,158.0 765.0,175.0 833.0,190.0 1000.0,227.0 1166.7,265.0 1265.0,287.5 1330.0,302.0 1400.0,318.0 1460.0,332.0 1460.0,398.0 1400.0,385.0 1265.0,357.0 1000.0,303.0 766.7,252.0 563.0,216.0 416.7,186.7 333.0,170.0 200.0,146.7 33.0,121.7" fill="#b7b5ae" filter="url(#fRoad)"/>
<ellipse cx="485" cy="166" rx="22" ry="5" fill="#8f8d88" opacity="0.7" transform="rotate(8 485 166)"/>
<ellipse cx="548" cy="175" rx="18" ry="4.5" fill="#8a8884" opacity="0.7" transform="rotate(8 548 175)"/>
<polygon points="150.0,48.8 190.0,55.4 230.0,63.1 270.0,70.7 310.0,78.3 350.0,85.6 390.0,92.4 430.0,99.1 470.0,105.9 510.0,112.4 550.0,118.2 590.0,123.9 630.0,129.7 640.0,131.1 640.0,157.7 630.0,156.1 590.0,149.8 550.0,143.4 510.0,136.1 470.0,128.1 430.0,120.1 390.0,112.6 350.0,105.0 310.0,97.4 270.0,89.5 230.0,80.8 190.0,72.2 150.0,63.9" fill="#4e6a34" filter="url(#fVeg)"/>
<polygon points="600.0,117.4 640.0,123.1 680.0,129.4 720.0,136.7 760.0,144.1 800.0,153.8 840.0,163.5 880.0,172.8 920.0,182.0 960.0,191.0 1000.0,200.0 1040.0,208.2 1080.0,216.3 1120.0,224.5 1160.0,232.6 1200.0,241.1 1240.0,249.7 1280.0,258.5 1320.0,267.7 1360.0,277.3 1400.0,287.0 1440.0,296.3 1460.0,301.0 1460.0,328.0 1440.0,323.3 1400.0,314.0 1360.0,304.9 1320.0,295.8 1280.0,286.8 1240.0,277.8 1200.0,268.6 1160.0,259.5 1120.0,250.4 1080.0,241.2 1040.0,232.1 1000.0,223.0 960.0,214.1 920.0,205.3 880.0,196.4 840.0,187.6 800.0,178.7 760.0,170.1 720.0,163.2 680.0,156.3 640.0,149.7 600.0,143.3" fill="#44503c" filter="url(#fVegD)"/>
<polygon points="640.0,146.7 680.0,153.3 720.0,160.2 760.0,167.1 800.0,175.7 840.0,184.6 880.0,193.4 920.0,202.3 960.0,211.1 1000.0,220.0 1040.0,229.1 1080.0,238.2 1120.0,247.4 1160.0,256.5 1200.0,265.6 1240.0,274.8 1280.0,283.8 1320.0,292.8 1360.0,301.9 1400.0,311.0 1440.0,320.3 1460.0,325.0 1460.0,336.0 1440.0,331.3 1400.0,322.0 1360.0,312.9 1320.0,303.8 1280.0,294.8 1240.0,285.8 1200.0,276.6 1160.0,267.5 1120.0,258.4 1080.0,249.2 1040.0,240.1 1000.0,231.0 960.0,222.1 920.0,213.3 880.0,204.4 840.0,195.6 800.0,186.7 760.0,178.1 720.0,171.2 680.0,164.3 640.0,157.7" fill="#b3a88e" filter="url(#fRoad)"/>
<polygon points="90.0,30.0 130.0,35.2 170.0,40.6 210.0,48.3 250.0,55.9 290.0,63.5 330.0,71.1 370.0,78.0 410.0,84.7 450.0,91.5 490.0,98.3 530.0,104.3 570.0,110.1 610.0,115.8 640.0,120.1 640.0,133.1 610.0,128.8 570.0,123.1 530.0,117.3 490.0,111.3 450.0,104.5 410.0,97.7 370.0,91.0 330.0,84.1 290.0,76.5 250.0,68.9 210.0,61.3 170.0,53.6 130.0,48.2 90.0,43.0" fill="#aeb9c2" filter="url(#fRail)"/>
<polyline points="667.0,126.0 765.0,144.0 816.7,157.0 900.0,176.5 1000.0,199.0 1166.7,233.0 1265.0,254.0 1330.0,269.0 1400.0,286.0 1460.0,300.0" fill="none" stroke="#d5dde3" stroke-width="3.00" stroke-linecap="round" stroke-linejoin="round" filter="url(#fRailW)" opacity="0.85"/>
<polyline points="667.0,133.0 765.0,151.0 816.7,164.0 900.0,183.5 1000.0,206.0 1166.7,240.0 1265.0,261.0 1330.0,276.0 1400.0,293.0 1460.0,307.0" fill="none" stroke="#d5dde3" stroke-width="4.00" stroke-linecap="round" stroke-linejoin="round" filter="url(#fRailW)" opacity="0.85"/>
<polyline points="667.0,141.0 765.0,159.0 816.7,172.0 900.0,191.5 1000.0,214.0 1166.7,248.0 1265.0,269.0 1330.0,284.0 1400.0,301.0 1460.0,315.0" fill="none" stroke="#d5dde3" stroke-width="3.00" stroke-linecap="round" stroke-linejoin="round" filter="url(#fRailW)" opacity="0.85"/>
<polygon points="40.0,120.7 80.0,126.7 120.0,132.7 160.0,138.7 200.0,144.7 240.0,151.7 280.0,158.7 320.0,165.7 360.0,173.4 400.0,181.4 430.0,187.4 430.0,201.4 400.0,195.4 360.0,187.4 320.0,179.7 280.0,172.7 240.0,165.7 200.0,158.7 160.0,152.7 120.0,146.7 80.0,140.7 40.0,134.7" fill="#2f3a26" filter="url(#fVegD)"/>
<polygon points="200.0,134.7 240.0,141.7 280.0,148.7 320.0,155.7 360.0,163.4 400.0,171.4 420.0,175.4 420.0,190.4 400.0,186.4 360.0,178.4 320.0,170.7 280.0,163.7 240.0,156.7 200.0,149.7" fill="#3f5a2a" filter="url(#fVeg)"/>
<polygon points="625.0,265.1 665.0,273.5 705.0,282.0 745.0,290.4 785.0,298.9 825.0,307.5 865.0,316.1 905.0,324.6 945.0,333.2 985.0,341.8 1025.0,350.1 1065.0,358.2 1105.0,366.4 1145.0,374.5 1185.0,382.7 1225.0,390.8 1265.0,399.0 1305.0,407.6 1345.0,416.2 1385.0,424.8 1425.0,433.4 1460.0,441.0 1460.0,461.0 1425.0,454.0 1385.0,445.9 1345.0,437.6 1305.0,429.3 1265.0,421.0 1225.0,413.7 1185.0,406.4 1145.0,399.0 1105.0,391.7 1065.0,384.4 1025.0,377.1 985.0,369.7 945.0,362.4 905.0,354.7 865.0,344.2 825.0,333.6 785.0,323.1 745.0,312.6 705.0,302.1 665.0,291.6 625.0,279.4" fill="#a8acb0" filter="url(#fGirdL)"/>
<polygon points="600.0,244.8 640.0,253.3 680.0,261.7 720.0,270.1 760.0,278.6 800.0,287.1 840.0,295.7 880.0,304.3 920.0,312.9 960.0,321.4 1000.0,330.0 1040.0,338.2 1080.0,346.3 1120.0,354.5 1160.0,362.6 1200.0,370.8 1240.0,378.9 1280.0,387.2 1320.0,395.8 1360.0,404.4 1400.0,413.0 1440.0,421.7 1460.0,426.0 1460.0,445.0 1440.0,440.7 1400.0,432.0 1360.0,423.4 1320.0,414.8 1280.0,406.2 1240.0,397.9 1200.0,389.8 1160.0,381.6 1120.0,373.5 1080.0,365.3 1040.0,357.2 1000.0,349.0 960.0,340.4 920.0,331.9 880.0,323.3 840.0,314.7 800.0,306.1 760.0,297.6 720.0,289.1 680.0,280.7 640.0,272.3 600.0,263.8" fill="#4a5566" filter="url(#fGird)"/>
<polygon points="563.0,200.0 603.0,208.4 643.0,216.9 683.0,225.3 723.0,233.8 763.0,242.2 803.0,250.8 843.0,259.4 883.0,267.9 923.0,276.5 963.0,285.1 1003.0,293.6 1043.0,301.8 1083.0,309.9 1123.0,318.1 1163.0,326.2 1203.0,334.4 1243.0,342.5 1283.0,350.9 1323.0,359.5 1363.0,368.1 1403.0,376.6 1443.0,385.3 1460.0,389.0 1460.0,429.0 1443.0,425.3 1403.0,416.6 1363.0,408.1 1323.0,399.5 1283.0,390.9 1243.0,382.5 1203.0,374.4 1163.0,366.2 1123.0,358.1 1083.0,349.9 1043.0,341.8 1003.0,333.6 963.0,325.1 923.0,316.5 883.0,307.9 843.0,299.4 803.0,290.8 763.0,282.2 723.0,273.8 683.0,265.3 643.0,256.9 603.0,248.4 563.0,240.0" fill="#9ea4aa" filter="url(#fRailN)"/>
<polyline points="563.0,203.0 766.7,246.0 1000.0,296.0 1265.0,350.0 1400.0,379.0 1460.0,392.0" fill="none" stroke="#5d6f88" stroke-width="4.50" stroke-linecap="round" stroke-linejoin="round" filter="url(#fRailL)" opacity="0.65"/>
<polyline points="563.0,214.0 766.7,257.0 1000.0,307.0 1265.0,361.0 1400.0,390.0 1460.0,403.0" fill="none" stroke="#6a7d98" stroke-width="3.50" stroke-linecap="round" stroke-linejoin="round" filter="url(#fRailL)" opacity="0.65"/>
<polyline points="563.0,225.0 766.7,268.0 1000.0,318.0 1265.0,372.0 1400.0,401.0 1460.0,414.0" fill="none" stroke="#5d6f88" stroke-width="3.50" stroke-linecap="round" stroke-linejoin="round" filter="url(#fRailL)" opacity="0.65"/>
<polyline points="563.0,234.0 766.7,277.0 1000.0,327.0 1265.0,381.0 1400.0,410.0 1460.0,423.0" fill="none" stroke="#566275" stroke-width="4.00" stroke-linecap="round" stroke-linejoin="round" filter="url(#fRailL)" opacity="0.65"/>
<polyline points="633.0,260.0 766.7,289.0 1000.0,340.0 1265.0,398.0 1340.0,414.0" fill="none" stroke="#d9c02e" stroke-width="5.50" stroke-linecap="round" stroke-linejoin="round" filter="url(#fYel)"/>
<rect x="575.0" y="203.5" width="3" height="34.0" fill="#aab4c0"/>
<rect x="609.0" y="210.7" width="3" height="34.0" fill="#aab4c0"/>
<rect x="643.0" y="217.9" width="3" height="34.0" fill="#aab4c0"/>
<rect x="677.0" y="225.1" width="3" height="34.0" fill="#aab4c0"/>
<rect x="711.0" y="232.2" width="3" height="34.0" fill="#aab4c0"/>
<rect x="745.0" y="239.4" width="3" height="34.0" fill="#aab4c0"/>
<rect x="779.0" y="246.6" width="3" height="34.0" fill="#aab4c0"/>
<rect x="813.0" y="253.9" width="3" height="34.0" fill="#aab4c0"/>
<rect x="847.0" y="261.2" width="3" height="34.0" fill="#aab4c0"/>
<rect x="881.0" y="268.5" width="3" height="34.0" fill="#aab4c0"/>
<rect x="915.0" y="275.8" width="3" height="34.0" fill="#aab4c0"/>
<rect x="949.0" y="283.1" width="3" height="34.0" fill="#aab4c0"/>
<rect x="983.0" y="290.4" width="3" height="34.0" fill="#aab4c0"/>
<rect x="1017.0" y="297.5" width="3" height="34.0" fill="#aab4c0"/>
<rect x="1051.0" y="304.4" width="3" height="34.0" fill="#aab4c0"/>
<rect x="1085.0" y="311.3" width="3" height="34.0" fill="#aab4c0"/>
<rect x="1119.0" y="318.2" width="3" height="34.0" fill="#aab4c0"/>
<rect x="1153.0" y="325.2" width="3" height="34.0" fill="#aab4c0"/>
<rect x="1187.0" y="332.1" width="3" height="34.0" fill="#aab4c0"/>
<rect x="1221.0" y="339.0" width="3" height="34.0" fill="#aab4c0"/>
<rect x="1255.0" y="346.0" width="3" height="34.0" fill="#aab4c0"/>
<rect x="1289.0" y="353.2" width="3" height="34.0" fill="#aab4c0"/>
<rect x="1323.0" y="360.5" width="3" height="34.0" fill="#aab4c0"/>
<rect x="1357.0" y="367.8" width="3" height="34.0" fill="#aab4c0"/>
<rect x="1391.0" y="375.1" width="3" height="34.0" fill="#aab4c0"/>
<polygon points="846.0,270.0 866.0,266.0 878.0,296.0 862.0,311.0 843.0,297.0" fill="#4f6a35" filter="url(#fVeg)"/>
<polygon points="1085.0,322.0 1110.0,318.0 1128.0,348.0 1112.0,372.0 1088.0,352.0" fill="#4f6a35" filter="url(#fVeg)"/>
</g>
</g>
<g id="panel_b">
<path d="M56.7,1382.0 L56.7,1614.2 A15.8,2.8 0 0 0 88.3,1614.2 L88.3,1382.0 Z" fill="url(#pile)" stroke="#2a2a2a" stroke-width="0.80" stroke-linejoin="round" />
<path d="M164.0,1412.0 L164.0,1608.8 A3.0,0.5 0 0 0 170.0,1608.8 L170.0,1412.0 Z" fill="url(#pile)" stroke="#2a2a2a" stroke-width="0.80" stroke-linejoin="round" />
<path d="M135.0,1412.0 L135.0,1641.8 A15.8,2.8 0 0 0 166.7,1641.8 L166.7,1412.0 Z" fill="url(#pile)" stroke="#2a2a2a" stroke-width="0.80" stroke-linejoin="round" />
<path d="M217.3,1403.7 L217.3,1634.5 A15.8,2.8 0 0 0 249.0,1634.5 L249.0,1403.7 Z" fill="url(#pile)" stroke="#2a2a2a" stroke-width="0.80" stroke-linejoin="round" />
<path d="M430.7,1355.3 L430.7,1584.2 A15.8,2.8 0 0 0 462.3,1584.2 L462.3,1355.3 Z" fill="url(#pile)" stroke="#2a2a2a" stroke-width="0.80" stroke-linejoin="round" />
<path d="M534.3,1378.7 L534.3,1579.4 A5.0,0.9 0 0 0 544.3,1579.4 L544.3,1378.7 Z" fill="url(#pile)" stroke="#2a2a2a" stroke-width="0.80" stroke-linejoin="round" />
<path d="M504.3,1378.7 L504.3,1610.2 A15.8,2.9 0 0 0 536.0,1610.2 L536.0,1378.7 Z" fill="url(#pile)" stroke="#2a2a2a" stroke-width="0.80" stroke-linejoin="round" />
<path d="M588.3,1372.0 L588.3,1602.7 A14.8,2.7 0 0 0 618.0,1602.7 L618.0,1372.0 Z" fill="url(#pile)" stroke="#2a2a2a" stroke-width="0.80" stroke-linejoin="round" />
<polygon points="38.3,1345.0 80.0,1339.0 216.7,1350.0 265.7,1368.0 137.7,1379.3" fill="url(#topA)" stroke="#262626" stroke-width="0.80" stroke-linejoin="round" />
<polygon points="38.3,1345.0 137.7,1379.3 137.7,1415.3 37.3,1382.3" fill="#383838" stroke="#262626" stroke-width="0.80" stroke-linejoin="round" />
<polygon points="137.7,1379.3 265.7,1368.0 266.7,1405.0 137.7,1415.3" fill="url(#sideA)" stroke="#262626" stroke-width="0.80" stroke-linejoin="round" />
<polygon points="413.3,1314.0 453.3,1311.7 586.7,1323.3 635.0,1337.7 507.7,1346.7" fill="url(#topA)" stroke="#262626" stroke-width="0.80" stroke-linejoin="round" />
<polygon points="413.3,1314.0 507.7,1346.7 507.7,1384.3 412.7,1351.7" fill="#383838" stroke="#262626" stroke-width="0.80" stroke-linejoin="round" />
<polygon points="507.7,1346.7 635.0,1337.7 635.7,1374.3 507.7,1384.3" fill="url(#sideA)" stroke="#262626" stroke-width="0.80" stroke-linejoin="round" />
<polygon points="83.3,1153.3 170.7,1181.7 167.7,1369.3 79.0,1339.0 78.7,1270.0" fill="#2f2f2f" stroke="#262626" stroke-width="0.80" stroke-linejoin="round" />
<polygon points="79.0,1277.3 168.3,1306.7 167.7,1369.3 79.0,1339.0" fill="#323232" />
<polyline points="79.0,1310.7 168.0,1339.0" fill="none" stroke="#202020" stroke-width="1.00" stroke-linecap="round" stroke-linejoin="round" />
<polygon points="78.7,1266.7 168.7,1296.0 168.7,1306.7 78.7,1277.3" fill="#262626" stroke="#1c1c1c" stroke-width="0.70" stroke-linejoin="round" />
<polyline points="78.7,1270.0 168.7,1299.3" fill="none" stroke="#4a4a4a" stroke-width="0.80" stroke-linecap="round" stroke-linejoin="round" />
<polygon points="81.2,1149.3 171.2,1176.9 171.2,1188.7 81.2,1158.7" fill="#343434" stroke="#1c1c1c" stroke-width="0.70" stroke-linejoin="round" />
<polygon points="81.2,1148.7 93.1,1147.2 172.3,1174.3 171.2,1176.9" fill="#858585" stroke="#2a2a2a" stroke-width="0.60" stroke-linejoin="round" />
<polygon points="172.7,1187.3 201.0,1184.7 209.3,1293.3 211.7,1367.3 167.7,1370.0 168.7,1298.3" fill="url(#pierF)" stroke="#262626" stroke-width="0.80" stroke-linejoin="round" />
<polygon points="173.3,1176.7 205.0,1178.7 205.0,1185.3 173.3,1187.3" fill="#6a6a6a" stroke="#262626" stroke-width="0.70" stroke-linejoin="round" />
<polygon points="173.3,1155.7 197.3,1153.3 198.7,1175.0 173.3,1176.7" fill="#707070" stroke="#262626" stroke-width="0.70" stroke-linejoin="round" />
<polygon points="173.3,1155.7 181.7,1151.0 196.7,1151.0 197.3,1153.3" fill="#555" stroke="#262626" stroke-width="0.60" stroke-linejoin="round" />
<path d="M173.3,1338.3 L173.3,1366.0 A19.2,5.0 0 0 0 211.7,1366.0 L211.7,1338.3 Z" fill="url(#pile)" stroke="#262626" stroke-width="0.70" stroke-linejoin="round" />
<path d="M175.0,1303.3 L175.0,1338.3 A16.7,4.0 0 0 0 208.3,1338.3 L208.3,1303.3 Z" fill="url(#pile)" stroke="#262626" stroke-width="0.70" stroke-linejoin="round" />
<rect x="171.7" y="1296.0" width="40.0" height="9.0" rx="3" fill="url(#pile)" stroke="#262626" stroke-width="0.7"/>
<path d="M174.3,1296.3 A15.0,15.8 0 0 1 204.3,1296.3 Z" fill="url(#dome)" stroke="#262626" stroke-width="0.70" stroke-linejoin="round" />
<polygon points="456.7,1155.0 546.7,1150.0 541.7,1339.3 450.7,1311.7 450.7,1240.0" fill="#2f2f2f" stroke="#262626" stroke-width="0.80" stroke-linejoin="round" />
<polygon points="450.7,1246.7 541.7,1275.0 541.7,1339.3 450.7,1311.7" fill="#323232" />
<polyline points="450.7,1280.7 541.7,1309.3" fill="none" stroke="#202020" stroke-width="1.00" stroke-linecap="round" stroke-linejoin="round" />
<polygon points="450.7,1236.0 542.7,1264.0 542.7,1275.0 450.7,1246.7" fill="#262626" stroke="#1c1c1c" stroke-width="0.70" stroke-linejoin="round" />
<polyline points="450.7,1239.3 542.7,1267.3" fill="none" stroke="#4a4a4a" stroke-width="0.80" stroke-linecap="round" stroke-linejoin="round" />
<polygon points="546.7,1155.0 574.0,1155.0 580.7,1260.0 584.0,1336.7 541.7,1339.3 542.7,1266.7" fill="url(#pierF)" stroke="#262626" stroke-width="0.80" stroke-linejoin="round" />
<polygon points="544.0,1147.3 578.3,1145.3 578.3,1154.0 544.0,1156.7" fill="#6a6a6a" stroke="#262626" stroke-width="0.70" stroke-linejoin="round" />
<polygon points="547.7,1125.0 571.0,1123.3 572.0,1146.7 547.7,1148.3" fill="#707070" stroke="#262626" stroke-width="0.70" stroke-linejoin="round" />
<polygon points="547.7,1125.0 555.0,1121.7 570.7,1121.7 571.0,1123.3" fill="#555" stroke="#262626" stroke-width="0.60" stroke-linejoin="round" />
<path d="M545.7,1307.3 L545.7,1336.0 A19.2,5.0 0 0 0 584.0,1336.0 L584.0,1307.3 Z" fill="url(#pile)" stroke="#262626" stroke-width="0.70" stroke-linejoin="round" />
<path d="M548.3,1272.7 L548.3,1307.3 A15.8,4.0 0 0 0 580.0,1307.3 L580.0,1272.7 Z" fill="url(#pile)" stroke="#262626" stroke-width="0.70" stroke-linejoin="round" />
<rect x="544.0" y="1265.3" width="40.0" height="9.0" rx="3" fill="url(#pile)" stroke="#262626" stroke-width="0.7"/>
<path d="M547.7,1265.7 A15.0,15.8 0 0 1 577.7,1265.7 Z" fill="url(#dome)" stroke="#262626" stroke-width="0.70" stroke-linejoin="round" />
<polygon points="100.0,1109.3 180.0,1138.1 180.0,1152.5 173.0,1155.0 172.5,1170.7 100.0,1147.5" fill="#4c4c4c" stroke="#262626" stroke-width="0.80" stroke-linejoin="round" />
<polygon points="185.0,1139.0 563.3,1108.3 566.7,1123.3 547.7,1125.0 547.7,1147.3 545.0,1148.0 205.0,1173.3 198.7,1175.0 197.3,1153.3 185.3,1153.3" fill="#c4c4c4" stroke="#262626" stroke-width="0.60" stroke-linejoin="round" />
<polyline points="185.3,1143.3 563.3,1112.7" fill="none" stroke="#d8d8d8" stroke-width="1.00" stroke-linecap="round" stroke-linejoin="round" />
<polygon points="100.0,1098.3 470.7,1066.7 560.0,1100.0 185.7,1129.3" fill="url(#deckA)" stroke="#262626" stroke-width="0.80" stroke-linejoin="round" />
<polygon points="185.7,1129.3 560.0,1100.0 560.7,1108.3 185.7,1138.7" fill="#7a7a7a" stroke="#262626" stroke-width="0.70" stroke-linejoin="round" />
<polygon points="100.0,1098.3 185.7,1129.3 185.7,1138.7 100.0,1109.3" fill="#353535" stroke="#262626" stroke-width="0.70" stroke-linejoin="round" />
<path d="M687.7,1378.7 L687.7,1632.1 A17.8,3.2 0 0 0 723.3,1632.1 L723.3,1378.7 Z" fill="url(#pile)" stroke="#2a2a2a" stroke-width="0.80" stroke-linejoin="round" />
<path d="M746.0,1392.0 L746.0,1612.1 A14.0,2.5 0 0 0 774.0,1612.1 L774.0,1392.0 Z" fill="url(#pile)" stroke="#2a2a2a" stroke-width="0.80" stroke-linejoin="round" />
<path d="M772.3,1395.3 L772.3,1647.1 A17.8,3.2 0 0 0 808.0,1647.1 L808.0,1395.3 Z" fill="url(#pile)" stroke="#2a2a2a" stroke-width="0.80" stroke-linejoin="round" />
<path d="M831.0,1375.3 L831.0,1625.5 A17.5,3.1 0 0 0 866.0,1625.5 L866.0,1375.3 Z" fill="url(#pile)" stroke="#2a2a2a" stroke-width="0.80" stroke-linejoin="round" />
<path d="M1071.7,1443.7 L1071.7,1697.1 A18.0,3.2 0 0 0 1107.7,1697.1 L1107.7,1443.7 Z" fill="url(#pile)" stroke="#2a2a2a" stroke-width="0.80" stroke-linejoin="round" />
<path d="M1129.0,1455.3 L1129.0,1676.0 A15.0,2.7 0 0 0 1159.0,1676.0 L1159.0,1455.3 Z" fill="url(#pile)" stroke="#2a2a2a" stroke-width="0.80" stroke-linejoin="round" />
<path d="M1157.7,1460.3 L1157.7,1710.5 A17.8,3.2 0 0 0 1193.3,1710.5 L1193.3,1460.3 Z" fill="url(#pile)" stroke="#2a2a2a" stroke-width="0.80" stroke-linejoin="round" />
<path d="M1215.7,1440.3 L1215.7,1689.6 A17.2,3.1 0 0 0 1250.0,1689.6 L1250.0,1440.3 Z" fill="url(#pile)" stroke="#2a2a2a" stroke-width="0.80" stroke-linejoin="round" />
<polygon points="666.7,1338.3 728.3,1316.7 831.7,1318.3 887.3,1328.3 796.7,1361.7" fill="url(#topA)" stroke="#262626" stroke-width="0.80" stroke-linejoin="round" />
<polyline points="750.0,1347.3 886.7,1330.0" fill="none" stroke="#333" stroke-width="0.70" stroke-linecap="round" stroke-linejoin="round" />
<polygon points="666.7,1338.3 796.7,1361.7 796.7,1400.7 666.7,1380.7" fill="#2f2f2f" stroke="#262626" stroke-width="0.80" stroke-linejoin="round" />
<polygon points="796.7,1361.7 887.3,1328.3 887.3,1368.3 796.7,1400.7" fill="url(#sideB)" stroke="#262626" stroke-width="0.80" stroke-linejoin="round" />
<polygon points="728.3,1171.7 747.3,1173.3 747.3,1347.3 728.3,1344.0" fill="#2f2f2f" stroke="#262626" stroke-width="0.80" stroke-linejoin="round" />
<polygon points="747.3,1173.3 831.7,1148.3 831.7,1320.0 747.3,1347.3" fill="url(#pierB)" stroke="#262626" stroke-width="0.80" stroke-linejoin="round" />
<polygon points="751.7,1140.0 812.7,1154.3 751.7,1175.0" fill="#d2d2d2" stroke="#262626" stroke-width="0.60" stroke-linejoin="round" />
<polygon points="722.7,1135.7 751.7,1140.0 751.7,1175.0 722.7,1170.7" fill="#555" stroke="#262626" stroke-width="0.80" stroke-linejoin="round" />
<polygon points="722.7,1135.7 727.3,1131.7 736.7,1131.7 751.7,1140.0" fill="#d8d8d8" stroke="#262626" stroke-width="0.60" stroke-linejoin="round" />
<polygon points="1051.7,1403.3 1113.3,1381.7 1215.0,1383.3 1270.0,1391.7 1183.3,1425.0" fill="url(#topA)" stroke="#262626" stroke-width="0.80" stroke-linejoin="round" />
<polyline points="1136.7,1411.7 1268.3,1393.3" fill="none" stroke="#333" stroke-width="0.70" stroke-linecap="round" stroke-linejoin="round" />
<polygon points="1051.7,1403.3 1183.3,1425.0 1183.3,1465.7 1051.0,1444.0" fill="#2f2f2f" stroke="#262626" stroke-width="0.80" stroke-linejoin="round" />
<polygon points="1183.3,1425.0 1270.0,1391.7 1271.7,1434.0 1183.3,1465.7" fill="url(#sideB)" stroke="#262626" stroke-width="0.80" stroke-linejoin="round" />
<polygon points="1113.3,1236.7 1132.3,1238.3 1132.3,1412.3 1113.3,1409.0" fill="#2f2f2f" stroke="#262626" stroke-width="0.80" stroke-linejoin="round" />
<polygon points="1132.3,1238.3 1215.0,1210.7 1215.0,1384.0 1132.3,1412.3" fill="url(#pierB)" stroke="#262626" stroke-width="0.80" stroke-linejoin="round" />
<polygon points="1127.3,1203.3 1206.7,1172.3 1219.0,1175.7 1220.0,1210.0 1136.7,1239.0 1136.7,1206.7" fill="#dadada" stroke="#262626" stroke-width="0.60" stroke-linejoin="round" />
<polyline points="1136.7,1206.7 1219.0,1175.7" fill="none" stroke="#999" stroke-width="0.70" stroke-linecap="round" stroke-linejoin="round" />
<polygon points="1106.7,1205.0 1136.7,1206.7 1136.7,1239.0 1106.7,1235.7" fill="#555" stroke="#262626" stroke-width="0.80" stroke-linejoin="round" />
<polygon points="733.3,1106.7 820.0,1073.3 1205.7,1139.3 1120.0,1171.7" fill="url(#deckB)" stroke="#262626" stroke-width="0.80" stroke-linejoin="round" />
<polygon points="1120.0,1171.7 1205.7,1139.3 1205.7,1170.7 1127.3,1202.3 1120.0,1196.7" fill="#6c6c6c" stroke="#262626" stroke-width="0.80" stroke-linejoin="round" />
<polygon points="733.3,1106.7 1120.0,1171.7 1120.0,1202.7 1106.7,1204.7 735.0,1136.7" fill="#2c2c2c" stroke="#262626" stroke-width="0.80" stroke-linejoin="round" />
<polyline points="734.3,1125.0 1120.0,1189.0" fill="none" stroke="#151515" stroke-width="1.60" stroke-linecap="round" stroke-linejoin="round" />
<polyline points="734.3,1127.3 1120.0,1191.3" fill="none" stroke="#4a4a4a" stroke-width="0.80" stroke-linecap="round" stroke-linejoin="round" />
<polyline points="734.0,1111.7 1120.0,1176.7" fill="none" stroke="#444" stroke-width="1.20" stroke-linecap="butt" stroke-linejoin="round" stroke-dasharray="1.2 2.2"/>
</g>
<g id="panel_c">
<path d="M2286.5,1318.8 L2286.5,1415.4 A7.5,1.3 0 0 0 2301.5,1415.4 L2301.5,1318.8 Z" fill="url(#pile)" stroke="#2c2c2c" stroke-width="0.60" stroke-linejoin="round" />
<path d="M2318.0,1328.8 L2318.0,1412.7 A6.0,1.1 0 0 0 2330.0,1412.7 L2330.0,1328.8 Z" fill="url(#pileD)" stroke="#2c2c2c" stroke-width="0.60" stroke-linejoin="round" />
<path d="M2329.5,1333.8 L2329.5,1446.7 A9.0,1.6 0 0 0 2347.5,1446.7 L2347.5,1333.8 Z" fill="url(#pile)" stroke="#2c2c2c" stroke-width="0.60" stroke-linejoin="round" />
<path d="M2364.5,1333.8 L2364.5,1433.3 A8.2,1.5 0 0 0 2381.0,1433.3 L2381.0,1333.8 Z" fill="url(#pile)" stroke="#2c2c2c" stroke-width="0.60" stroke-linejoin="round" />
<polygon points="2289.0,1322.5 2310.6,1314.8 2333.1,1328.2 2333.1,1342.5 2295.5,1328.2" fill="#3a3a3a" stroke="#262626" stroke-width="0.60" stroke-linejoin="round" />
<polygon points="2310.6,1314.8 2332.5,1306.8 2351.2,1316.8 2351.2,1319.3 2333.1,1328.2" fill="#929292" stroke="#262626" stroke-width="0.60" stroke-linejoin="round" />
<polygon points="2333.1,1328.2 2351.2,1319.3 2351.2,1334.3 2337.5,1340.0 2333.1,1342.5" fill="#7c7c7c" stroke="#262626" stroke-width="0.60" stroke-linejoin="round" />
<polygon points="2332.5,1306.2 2422.5,1272.8 2422.5,1365.0 2351.9,1339.3 2351.9,1315.7" fill="#363636" stroke="#262626" stroke-width="0.60" stroke-linejoin="round" />
<polygon points="2355.0,1298.8 2422.5,1329.3 2422.5,1365.0 2351.9,1339.3 2351.9,1315.7 2353.5,1304.8" fill="#404040" />
<polyline points="2355.0,1298.8 2422.5,1329.3" fill="none" stroke="#1c1c1c" stroke-width="1.30" stroke-linecap="round" stroke-linejoin="round" />
<polyline points="2353.7,1304.3 2422.5,1335.0" fill="none" stroke="#2a2a2a" stroke-width="0.70" stroke-linecap="round" stroke-linejoin="round" />
<polyline points="2352.5,1318.2 2422.5,1350.0" fill="none" stroke="#1c1c1c" stroke-width="1.30" stroke-linecap="round" stroke-linejoin="round" />
<polyline points="2351.9,1322.8 2422.5,1354.2" fill="none" stroke="#2a2a2a" stroke-width="0.60" stroke-linecap="round" stroke-linejoin="round" />
<polyline points="2351.9,1339.3 2422.5,1365.0" fill="none" stroke="#1c1c1c" stroke-width="0.80" stroke-linecap="round" stroke-linejoin="round" />
<path d="M2138.2,1383.5 L2138.2,1492.1 A8.0,1.4 0 0 0 2154.2,1492.1 L2154.2,1383.5 Z" fill="url(#pile)" stroke="#2c2c2c" stroke-width="0.60" stroke-linejoin="round" />
<path d="M2169.7,1393.5 L2169.7,1507.1 A8.0,1.4 0 0 0 2185.7,1507.1 L2185.7,1393.5 Z" fill="url(#pile)" stroke="#2c2c2c" stroke-width="0.60" stroke-linejoin="round" />
<polygon points="2132.2,1382.2 2153.8,1374.5 2176.3,1387.9 2176.3,1402.3 2138.7,1387.9" fill="#3a3a3a" stroke="#262626" stroke-width="0.60" stroke-linejoin="round" />
<polygon points="2153.8,1374.5 2175.7,1366.5 2194.4,1376.6 2194.4,1379.1 2176.3,1387.9" fill="#929292" stroke="#262626" stroke-width="0.60" stroke-linejoin="round" />
<polygon points="2176.3,1387.9 2194.4,1379.1 2194.4,1394.1 2180.7,1399.8 2176.3,1402.3" fill="#7c7c7c" stroke="#262626" stroke-width="0.60" stroke-linejoin="round" />
<path d="M2205.7,1413.5 L2205.7,1493.2 A7.5,1.3 0 0 0 2220.7,1493.2 L2220.7,1413.5 Z" fill="url(#pileD)" stroke="#2c2c2c" stroke-width="0.60" stroke-linejoin="round" />
<path d="M2188.7,1405.5 L2188.7,1528.1 A7.8,1.4 0 0 0 2204.2,1528.1 L2204.2,1405.5 Z" fill="url(#pile)" stroke="#2c2c2c" stroke-width="0.60" stroke-linejoin="round" />
<path d="M2224.7,1423.5 L2224.7,1514.6 A8.2,1.5 0 0 0 2241.2,1514.6 L2241.2,1423.5 Z" fill="url(#pile)" stroke="#2c2c2c" stroke-width="0.60" stroke-linejoin="round" />
<path d="M2252.7,1445.5 L2252.7,1557.2 A7.5,1.3 0 0 0 2267.7,1557.2 L2267.7,1445.5 Z" fill="url(#pile)" stroke="#2c2c2c" stroke-width="0.60" stroke-linejoin="round" />
<path d="M2286.7,1425.5 L2286.7,1544.6 A8.2,1.5 0 0 0 2303.0,1544.6 L2303.0,1425.5 Z" fill="url(#pile)" stroke="#2c2c2c" stroke-width="0.60" stroke-linejoin="round" />
<polygon points="2180.1,1400.8 2196.9,1393.9 2312.0,1416.6 2257.6,1437.9" fill="#8f8f8f" stroke="#262626" stroke-width="0.60" stroke-linejoin="round" />
<polygon points="2180.1,1400.8 2257.6,1437.9 2257.6,1452.9 2178.2,1415.4" fill="#3c3c3c" stroke="#262626" stroke-width="0.60" stroke-linejoin="round" />
<polygon points="2257.6,1437.9 2312.0,1416.6 2312.6,1430.4 2257.6,1452.9" fill="#7e7e7e" stroke="#262626" stroke-width="0.60" stroke-linejoin="round" />
<polygon points="2175.7,1366.0 2265.7,1332.5 2265.7,1424.8 2195.1,1399.1 2195.1,1375.4" fill="#363636" stroke="#262626" stroke-width="0.60" stroke-linejoin="round" />
<polygon points="2198.2,1358.5 2265.7,1389.1 2265.7,1424.8 2195.1,1399.1 2195.1,1375.4 2196.7,1364.5" fill="#404040" />
<polyline points="2198.2,1358.5 2265.7,1389.1" fill="none" stroke="#1c1c1c" stroke-width="1.30" stroke-linecap="round" stroke-linejoin="round" />
<polyline points="2196.9,1364.1 2265.7,1394.8" fill="none" stroke="#2a2a2a" stroke-width="0.70" stroke-linecap="round" stroke-linejoin="round" />
<polyline points="2195.7,1377.9 2265.7,1409.8" fill="none" stroke="#1c1c1c" stroke-width="1.30" stroke-linecap="round" stroke-linejoin="round" />
<polyline points="2195.1,1382.5 2265.7,1414.0" fill="none" stroke="#2a2a2a" stroke-width="0.60" stroke-linecap="round" stroke-linejoin="round" />
<polyline points="2195.1,1399.1 2265.7,1424.8" fill="none" stroke="#1c1c1c" stroke-width="0.80" stroke-linecap="round" stroke-linejoin="round" />
<path d="M1977.2,1443.1 L1977.2,1551.7 A8.0,1.4 0 0 0 1993.2,1551.7 L1993.2,1443.1 Z" fill="url(#pile)" stroke="#2c2c2c" stroke-width="0.60" stroke-linejoin="round" />
<path d="M2008.8,1453.1 L2008.8,1566.7 A8.0,1.4 0 0 0 2024.8,1566.7 L2024.8,1453.1 Z" fill="url(#pile)" stroke="#2c2c2c" stroke-width="0.60" stroke-linejoin="round" />
<polygon points="1971.2,1441.8 1992.8,1434.1 2015.3,1447.5 2015.3,1461.9 1977.8,1447.5" fill="#3a3a3a" stroke="#262626" stroke-width="0.60" stroke-linejoin="round" />
<polygon points="1992.8,1434.1 2014.8,1426.1 2033.5,1436.2 2033.5,1438.7 2015.3,1447.5" fill="#929292" stroke="#262626" stroke-width="0.60" stroke-linejoin="round" />
<polygon points="2015.3,1447.5 2033.5,1438.7 2033.5,1453.7 2019.8,1459.4 2015.3,1461.9" fill="#7c7c7c" stroke="#262626" stroke-width="0.60" stroke-linejoin="round" />
<path d="M2044.8,1473.1 L2044.8,1552.8 A7.5,1.3 0 0 0 2059.8,1552.8 L2059.8,1473.1 Z" fill="url(#pileD)" stroke="#2c2c2c" stroke-width="0.60" stroke-linejoin="round" />
<path d="M2027.8,1465.1 L2027.8,1587.7 A7.8,1.4 0 0 0 2043.2,1587.7 L2043.2,1465.1 Z" fill="url(#pile)" stroke="#2c2c2c" stroke-width="0.60" stroke-linejoin="round" />
<path d="M2063.8,1483.1 L2063.8,1574.2 A8.2,1.5 0 0 0 2080.2,1574.2 L2080.2,1483.1 Z" fill="url(#pile)" stroke="#2c2c2c" stroke-width="0.60" stroke-linejoin="round" />
<path d="M2091.8,1505.1 L2091.8,1616.8 A7.5,1.3 0 0 0 2106.8,1616.8 L2106.8,1505.1 Z" fill="url(#pile)" stroke="#2c2c2c" stroke-width="0.60" stroke-linejoin="round" />
<path d="M2125.8,1485.1 L2125.8,1604.2 A8.2,1.5 0 0 0 2142.1,1604.2 L2142.1,1485.1 Z" fill="url(#pile)" stroke="#2c2c2c" stroke-width="0.60" stroke-linejoin="round" />
<polygon points="2019.2,1460.4 2036.0,1453.5 2151.1,1476.2 2096.7,1497.5" fill="#8f8f8f" stroke="#262626" stroke-width="0.60" stroke-linejoin="round" />
<polygon points="2019.2,1460.4 2096.7,1497.5 2096.7,1512.5 2017.2,1475.0" fill="#3c3c3c" stroke="#262626" stroke-width="0.60" stroke-linejoin="round" />
<polygon points="2096.7,1497.5 2151.1,1476.2 2151.7,1490.0 2096.7,1512.5" fill="#7e7e7e" stroke="#262626" stroke-width="0.60" stroke-linejoin="round" />
<polygon points="2014.8,1425.6 2104.8,1392.1 2104.8,1484.4 2034.2,1458.7 2034.2,1435.0" fill="#363636" stroke="#262626" stroke-width="0.60" stroke-linejoin="round" />
<polygon points="2037.2,1418.1 2104.8,1448.7 2104.8,1484.4 2034.2,1458.7 2034.2,1435.0 2035.8,1424.1" fill="#404040" />
<polyline points="2037.2,1418.1 2104.8,1448.7" fill="none" stroke="#1c1c1c" stroke-width="1.30" stroke-linecap="round" stroke-linejoin="round" />
<polyline points="2036.0,1423.7 2104.8,1454.4" fill="none" stroke="#2a2a2a" stroke-width="0.70" stroke-linecap="round" stroke-linejoin="round" />
<polyline points="2034.8,1437.5 2104.8,1469.4" fill="none" stroke="#1c1c1c" stroke-width="1.30" stroke-linecap="round" stroke-linejoin="round" />
<polyline points="2034.2,1442.1 2104.8,1473.6" fill="none" stroke="#2a2a2a" stroke-width="0.60" stroke-linecap="round" stroke-linejoin="round" />
<polyline points="2034.2,1458.7 2104.8,1484.4" fill="none" stroke="#1c1c1c" stroke-width="0.80" stroke-linecap="round" stroke-linejoin="round" />
<path d="M1817.4,1503.8 L1817.4,1612.4 A8.0,1.4 0 0 0 1833.4,1612.4 L1833.4,1503.8 Z" fill="url(#pile)" stroke="#2c2c2c" stroke-width="0.60" stroke-linejoin="round" />
<path d="M1848.9,1513.8 L1848.9,1627.4 A8.0,1.4 0 0 0 1864.9,1627.4 L1864.9,1513.8 Z" fill="url(#pile)" stroke="#2c2c2c" stroke-width="0.60" stroke-linejoin="round" />
<polygon points="1811.4,1502.5 1833.0,1494.8 1855.5,1508.2 1855.5,1522.6 1817.9,1508.2" fill="#3a3a3a" stroke="#262626" stroke-width="0.60" stroke-linejoin="round" />
<polygon points="1833.0,1494.8 1854.9,1486.8 1873.6,1496.9 1873.6,1499.4 1855.5,1508.2" fill="#929292" stroke="#262626" stroke-width="0.60" stroke-linejoin="round" />
<polygon points="1855.5,1508.2 1873.6,1499.4 1873.6,1514.4 1859.9,1520.1 1855.5,1522.6" fill="#7c7c7c" stroke="#262626" stroke-width="0.60" stroke-linejoin="round" />
<path d="M1884.9,1533.8 L1884.9,1613.5 A7.5,1.3 0 0 0 1899.9,1613.5 L1899.9,1533.8 Z" fill="url(#pileD)" stroke="#2c2c2c" stroke-width="0.60" stroke-linejoin="round" />
<path d="M1867.9,1525.8 L1867.9,1648.4 A7.8,1.4 0 0 0 1883.4,1648.4 L1883.4,1525.8 Z" fill="url(#pile)" stroke="#2c2c2c" stroke-width="0.60" stroke-linejoin="round" />
<path d="M1903.9,1543.8 L1903.9,1634.9 A8.2,1.5 0 0 0 1920.4,1634.9 L1920.4,1543.8 Z" fill="url(#pile)" stroke="#2c2c2c" stroke-width="0.60" stroke-linejoin="round" />
<path d="M1931.9,1565.8 L1931.9,1677.5 A7.5,1.3 0 0 0 1946.9,1677.5 L1946.9,1565.8 Z" fill="url(#pile)" stroke="#2c2c2c" stroke-width="0.60" stroke-linejoin="round" />
<path d="M1965.9,1545.8 L1965.9,1664.9 A8.1,1.5 0 0 0 1982.2,1664.9 L1982.2,1545.8 Z" fill="url(#pile)" stroke="#2c2c2c" stroke-width="0.60" stroke-linejoin="round" />
<polygon points="1859.3,1521.1 1876.1,1514.2 1991.2,1536.9 1936.8,1558.2" fill="#8f8f8f" stroke="#262626" stroke-width="0.60" stroke-linejoin="round" />
<polygon points="1859.3,1521.1 1936.8,1558.2 1936.8,1573.2 1857.4,1535.7" fill="#3c3c3c" stroke="#262626" stroke-width="0.60" stroke-linejoin="round" />
<polygon points="1936.8,1558.2 1991.2,1536.9 1991.8,1550.7 1936.8,1573.2" fill="#7e7e7e" stroke="#262626" stroke-width="0.60" stroke-linejoin="round" />
<polygon points="1854.9,1486.3 1944.9,1452.8 1944.9,1545.1 1874.3,1519.4 1874.3,1495.7" fill="#363636" stroke="#262626" stroke-width="0.60" stroke-linejoin="round" />
<polygon points="1877.4,1478.8 1944.9,1509.4 1944.9,1545.1 1874.3,1519.4 1874.3,1495.7 1875.9,1484.8" fill="#404040" />
<polyline points="1877.4,1478.8 1944.9,1509.4" fill="none" stroke="#1c1c1c" stroke-width="1.30" stroke-linecap="round" stroke-linejoin="round" />
<polyline points="1876.1,1484.4 1944.9,1515.1" fill="none" stroke="#2a2a2a" stroke-width="0.70" stroke-linecap="round" stroke-linejoin="round" />
<polyline points="1874.9,1498.2 1944.9,1530.1" fill="none" stroke="#1c1c1c" stroke-width="1.30" stroke-linecap="round" stroke-linejoin="round" />
<polyline points="1874.3,1502.8 1944.9,1534.3" fill="none" stroke="#2a2a2a" stroke-width="0.60" stroke-linecap="round" stroke-linejoin="round" />
<polyline points="1874.3,1519.4 1944.9,1545.1" fill="none" stroke="#1c1c1c" stroke-width="0.80" stroke-linecap="round" stroke-linejoin="round" />
<path d="M1657.5,1564.4 L1657.5,1673.0 A8.0,1.4 0 0 0 1673.5,1673.0 L1673.5,1564.4 Z" fill="url(#pile)" stroke="#2c2c2c" stroke-width="0.60" stroke-linejoin="round" />
<path d="M1689.0,1574.4 L1689.0,1688.0 A8.0,1.4 0 0 0 1705.0,1688.0 L1705.0,1574.4 Z" fill="url(#pile)" stroke="#2c2c2c" stroke-width="0.60" stroke-linejoin="round" />
<polygon points="1651.5,1563.1 1673.1,1555.4 1695.6,1568.8 1695.6,1583.2 1658.0,1568.8" fill="#3a3a3a" stroke="#262626" stroke-width="0.60" stroke-linejoin="round" />
<polygon points="1673.1,1555.4 1695.0,1547.4 1713.7,1557.5 1713.7,1560.0 1695.6,1568.8" fill="#929292" stroke="#262626" stroke-width="0.60" stroke-linejoin="round" />
<polygon points="1695.6,1568.8 1713.7,1560.0 1713.7,1575.0 1700.0,1580.7 1695.6,1583.2" fill="#7c7c7c" stroke="#262626" stroke-width="0.60" stroke-linejoin="round" />
<path d="M1725.0,1594.4 L1725.0,1674.1 A7.5,1.3 0 0 0 1740.0,1674.1 L1740.0,1594.4 Z" fill="url(#pileD)" stroke="#2c2c2c" stroke-width="0.60" stroke-linejoin="round" />
<path d="M1708.0,1586.4 L1708.0,1709.0 A7.8,1.4 0 0 0 1723.5,1709.0 L1723.5,1586.4 Z" fill="url(#pile)" stroke="#2c2c2c" stroke-width="0.60" stroke-linejoin="round" />
<path d="M1744.0,1604.4 L1744.0,1695.5 A8.2,1.5 0 0 0 1760.5,1695.5 L1760.5,1604.4 Z" fill="url(#pile)" stroke="#2c2c2c" stroke-width="0.60" stroke-linejoin="round" />
<path d="M1772.0,1626.4 L1772.0,1738.1 A7.5,1.3 0 0 0 1787.0,1738.1 L1787.0,1626.4 Z" fill="url(#pile)" stroke="#2c2c2c" stroke-width="0.60" stroke-linejoin="round" />
<path d="M1806.0,1606.4 L1806.0,1725.5 A8.1,1.5 0 0 0 1822.3,1725.5 L1822.3,1606.4 Z" fill="url(#pile)" stroke="#2c2c2c" stroke-width="0.60" stroke-linejoin="round" />
<polygon points="1699.4,1581.7 1716.2,1574.8 1831.3,1597.5 1776.9,1618.8" fill="#8f8f8f" stroke="#262626" stroke-width="0.60" stroke-linejoin="round" />
<polygon points="1699.4,1581.7 1776.9,1618.8 1776.9,1633.8 1697.5,1596.3" fill="#3c3c3c" stroke="#262626" stroke-width="0.60" stroke-linejoin="round" />
<polygon points="1776.9,1618.8 1831.3,1597.5 1831.9,1611.3 1776.9,1633.8" fill="#7e7e7e" stroke="#262626" stroke-width="0.60" stroke-linejoin="round" />
<polygon points="1695.0,1546.9 1785.0,1513.4 1785.0,1605.7 1714.4,1580.0 1714.4,1556.3" fill="#363636" stroke="#262626" stroke-width="0.60" stroke-linejoin="round" />
<polygon points="1717.5,1539.4 1785.0,1570.0 1785.0,1605.7 1714.4,1580.0 1714.4,1556.3 1716.0,1545.4" fill="#404040" />
<polyline points="1717.5,1539.4 1785.0,1570.0" fill="none" stroke="#1c1c1c" stroke-width="1.30" stroke-linecap="round" stroke-linejoin="round" />
<polyline points="1716.2,1545.0 1785.0,1575.7" fill="none" stroke="#2a2a2a" stroke-width="0.70" stroke-linecap="round" stroke-linejoin="round" />
<polyline points="1715.0,1558.8 1785.0,1590.7" fill="none" stroke="#1c1c1c" stroke-width="1.30" stroke-linecap="round" stroke-linejoin="round" />
<polyline points="1714.4,1563.4 1785.0,1594.9" fill="none" stroke="#2a2a2a" stroke-width="0.60" stroke-linecap="round" stroke-linejoin="round" />
<polyline points="1714.4,1580.0 1785.0,1605.7" fill="none" stroke="#1c1c1c" stroke-width="0.80" stroke-linecap="round" stroke-linejoin="round" />
<path d="M1499.4,1625.0 L1499.4,1735.6 A7.8,1.4 0 0 0 1515.0,1735.6 L1515.0,1625.0 Z" fill="url(#pile)" stroke="#2c2c2c" stroke-width="0.60" stroke-linejoin="round" />
<path d="M1545.0,1650.0 L1545.0,1721.5 A3.0,0.5 0 0 0 1551.0,1721.5 L1551.0,1650.0 Z" fill="url(#pileD)" stroke="#2c2c2c" stroke-width="0.60" stroke-linejoin="round" />
<path d="M1531.3,1648.0 L1531.3,1751.1 A7.9,1.4 0 0 0 1547.0,1751.1 L1547.0,1648.0 Z" fill="url(#pile)" stroke="#2c2c2c" stroke-width="0.60" stroke-linejoin="round" />
<path d="M1565.6,1640.0 L1565.6,1736.5 A8.5,1.5 0 0 0 1582.5,1736.5 L1582.5,1640.0 Z" fill="url(#pile)" stroke="#2c2c2c" stroke-width="0.60" stroke-linejoin="round" />
<polygon points="1489.4,1590.0 1513.8,1585.0 1513.8,1634.0 1500.0,1631.0 1489.4,1624.4" fill="#3c3c3c" stroke="#262626" stroke-width="0.60" stroke-linejoin="round" />
<polygon points="1503.8,1598.8 1513.8,1595.6 1513.8,1613.8 1503.8,1610.0" fill="#9a9a9a" />
<polygon points="1513.8,1585.0 1527.5,1580.0 1527.5,1656.3 1513.8,1650.0" fill="#3a3a3a" stroke="#262626" stroke-width="0.60" stroke-linejoin="round" />
<polygon points="1527.5,1580.0 1561.9,1567.0 1561.9,1643.8 1527.5,1656.3" fill="#868686" stroke="#262626" stroke-width="0.60" stroke-linejoin="round" />
<polygon points="1561.9,1567.0 1574.4,1562.0 1574.4,1647.5 1561.9,1641.3" fill="#3a3a3a" stroke="#262626" stroke-width="0.60" stroke-linejoin="round" />
<polygon points="1574.4,1562.0 1587.5,1560.0 1588.8,1685.6 1576.3,1680.0" fill="#404040" stroke="#262626" stroke-width="0.60" stroke-linejoin="round" />
<polygon points="1587.5,1570.0 1635.0,1553.0 1637.5,1597.5 1643.8,1628.8 1645.0,1662.5 1588.8,1685.6" fill="#878787" stroke="#262626" stroke-width="0.70" stroke-linejoin="round" />
<polygon points="1583.0,1562.0 1633.8,1543.0 1635.0,1563.8 1587.5,1580.0" fill="#989898" stroke="#262626" stroke-width="0.60" stroke-linejoin="round" />
<polygon points="2429.5,1243.0 2438.8,1243.0 2438.8,1365.0 2429.5,1365.0" fill="#3a3a3a" />
<polygon points="2438.2,1240.0 2486.2,1221.0 2487.0,1265.0 2490.6,1306.0 2490.0,1345.6 2440.0,1365.6" fill="#878787" stroke="#262626" stroke-width="0.70" stroke-linejoin="round" />
<polyline points="2438.8,1258.8 2486.2,1241.2" fill="none" stroke="#333" stroke-width="0.80" stroke-linecap="round" stroke-linejoin="round" />
<polyline points="2438.8,1250.0 2486.2,1232.5" fill="none" stroke="#555" stroke-width="0.60" stroke-linecap="round" stroke-linejoin="round" />
<polygon points="1633.5,1546.3 2433.0,1242.9 2433.0,1268.9 1635.5,1572.3" fill="#868686" />
<polygon points="1633.5,1546.3 2433.0,1242.9 2433.0,1251.4 1633.5,1554.8" fill="#7a7a7a" />
<polyline points="1633.5,1550.5 2433.0,1247.1" fill="none" stroke="#3a3a3a" stroke-width="0.80" stroke-linecap="round" stroke-linejoin="round" />
<polyline points="1633.5,1554.8 2433.0,1251.4" fill="none" stroke="#2a2a2a" stroke-width="1.00" stroke-linecap="round" stroke-linejoin="round" />
<polyline points="1635.5,1572.3 2433.0,1268.9" fill="none" stroke="#2a2a2a" stroke-width="0.80" stroke-linecap="round" stroke-linejoin="round" />
<polygon points="1380.0,1541.0 1520.0,1486.0 1713.0,1411.0 1880.0,1347.0 2047.0,1284.0 2145.0,1248.5 2226.0,1217.0 2303.0,1183.0 2350.0,1158.0 2393.0,1128.0 2420.0,1102.0 2443.0,1073.0 2458.0,1048.0 2468.0,1030.0 2641.0,1040.0 2638.0,1062.0 2631.0,1090.0 2620.0,1118.0 2602.0,1148.0 2576.0,1178.0 2545.0,1200.0 2510.0,1217.0 2470.0,1231.0 2436.0,1242.5 1500.6,1596.7" fill="url(#deckC)" stroke="#222" stroke-width="1.00" stroke-linejoin="round" />
<polyline points="1520.0,1486.0 1633.5,1546.3" fill="none" stroke="#3a3a3a" stroke-width="0.80" stroke-linecap="round" stroke-linejoin="round" />
<polyline points="2303.0,1183.0 2434.7,1242.0" fill="none" stroke="#3a3a3a" stroke-width="0.80" stroke-linecap="round" stroke-linejoin="round" />
<polyline points="1500.6,1596.7 2436.0,1241.8" fill="none" stroke="#1e1e1e" stroke-width="1.40" stroke-linecap="round" stroke-linejoin="round" />
<polygon points="2422.5,1275.8 2430.5,1274.8 2430.5,1323.8 2422.5,1365.0" fill="#8a8a8a" stroke="#262626" stroke-width="0.60" stroke-linejoin="round" />
<path d="M2426.5,1326.8 L2426.5,1363.2 A6.3,2 0 0 0 2439.1,1363.2 L2439.1,1326.8 Z" fill="url(#pile)" stroke="#262626" stroke-width="0.60" stroke-linejoin="round" />
<polyline points="2426.0,1331.2 2439.5,1331.2" fill="none" stroke="#1c1c1c" stroke-width="1.00" stroke-linecap="round" stroke-linejoin="round" />
<polyline points="2426.0,1351.2 2439.5,1351.2" fill="none" stroke="#1c1c1c" stroke-width="1.20" stroke-linecap="round" stroke-linejoin="round" />
<circle cx="2432.8" cy="1323.8" r="6.6" fill="url(#domeC)" stroke="#333" stroke-width="0.5"/>
<polyline points="2426.0,1328.2 2439.5,1328.2" fill="none" stroke="#2a2a2a" stroke-width="0.90" stroke-linecap="round" stroke-linejoin="round" />
<polygon points="2423.5,1260.8 2431.0,1259.8 2431.0,1271.8 2423.5,1272.8" fill="#8a8a8a" stroke="#1a1a1a" stroke-width="1.00" stroke-linejoin="round" />
<polygon points="2265.7,1337.2 2278.8,1335.4 2281.7,1376.6 2285.7,1419.8 2265.7,1424.8" fill="url(#cface)" stroke="#262626" stroke-width="0.60" stroke-linejoin="round" />
<path d="M2269.7,1386.5 L2269.7,1423.0 A6.3,2 0 0 0 2282.3,1423.0 L2282.3,1386.5 Z" fill="url(#pile)" stroke="#262626" stroke-width="0.60" stroke-linejoin="round" />
<polyline points="2269.2,1391.0 2282.7,1391.0" fill="none" stroke="#1c1c1c" stroke-width="1.00" stroke-linecap="round" stroke-linejoin="round" />
<polyline points="2269.2,1411.0 2282.7,1411.0" fill="none" stroke="#1c1c1c" stroke-width="1.20" stroke-linecap="round" stroke-linejoin="round" />
<circle cx="2276.0" cy="1383.5" r="6.6" fill="url(#domeC)" stroke="#333" stroke-width="0.5"/>
<polyline points="2269.2,1388.0 2282.7,1388.0" fill="none" stroke="#2a2a2a" stroke-width="0.90" stroke-linecap="round" stroke-linejoin="round" />
<polygon points="2266.3,1319.1 2277.6,1317.2 2278.8,1335.4 2266.3,1337.2" fill="#858585" stroke="#1a1a1a" stroke-width="1.00" stroke-linejoin="round" />
<polyline points="2272.5,1306.5 2272.5,1317.5" fill="none" stroke="#222" stroke-width="1.40" stroke-linecap="round" stroke-linejoin="round" />
<polygon points="2104.8,1396.8 2117.8,1395.0 2120.8,1436.2 2124.8,1479.4 2104.8,1484.4" fill="url(#cface)" stroke="#262626" stroke-width="0.60" stroke-linejoin="round" />
<path d="M2108.8,1446.1 L2108.8,1482.6 A6.3,2 0 0 0 2121.3,1482.6 L2121.3,1446.1 Z" fill="url(#pile)" stroke="#262626" stroke-width="0.60" stroke-linejoin="round" />
<polyline points="2108.2,1450.6 2121.8,1450.6" fill="none" stroke="#1c1c1c" stroke-width="1.00" stroke-linecap="round" stroke-linejoin="round" />
<polyline points="2108.2,1470.6 2121.8,1470.6" fill="none" stroke="#1c1c1c" stroke-width="1.20" stroke-linecap="round" stroke-linejoin="round" />
<circle cx="2115.1" cy="1443.1" r="6.6" fill="url(#domeC)" stroke="#333" stroke-width="0.5"/>
<polyline points="2108.2,1447.6 2121.8,1447.6" fill="none" stroke="#2a2a2a" stroke-width="0.90" stroke-linecap="round" stroke-linejoin="round" />
<polygon points="2105.3,1378.7 2116.7,1376.8 2117.8,1395.0 2105.3,1396.8" fill="#858585" stroke="#1a1a1a" stroke-width="1.00" stroke-linejoin="round" />
<polyline points="2111.6,1366.1 2111.6,1377.1" fill="none" stroke="#222" stroke-width="1.40" stroke-linecap="round" stroke-linejoin="round" />
<polygon points="1944.9,1457.5 1958.0,1455.7 1960.9,1496.9 1964.9,1540.1 1944.9,1545.1" fill="url(#cface)" stroke="#262626" stroke-width="0.60" stroke-linejoin="round" />
<path d="M1948.9,1506.8 L1948.9,1543.3 A6.3,2 0 0 0 1961.5,1543.3 L1961.5,1506.8 Z" fill="url(#pile)" stroke="#262626" stroke-width="0.60" stroke-linejoin="round" />
<polyline points="1948.4,1511.3 1961.9,1511.3" fill="none" stroke="#1c1c1c" stroke-width="1.00" stroke-linecap="round" stroke-linejoin="round" />
<polyline points="1948.4,1531.3 1961.9,1531.3" fill="none" stroke="#1c1c1c" stroke-width="1.20" stroke-linecap="round" stroke-linejoin="round" />
<circle cx="1955.2" cy="1503.8" r="6.6" fill="url(#domeC)" stroke="#333" stroke-width="0.5"/>
<polyline points="1948.4,1508.3 1961.9,1508.3" fill="none" stroke="#2a2a2a" stroke-width="0.90" stroke-linecap="round" stroke-linejoin="round" />
<polygon points="1945.5,1439.4 1956.8,1437.5 1958.0,1455.7 1945.5,1457.5" fill="#858585" stroke="#1a1a1a" stroke-width="1.00" stroke-linejoin="round" />
<polyline points="1951.7,1426.8 1951.7,1437.8" fill="none" stroke="#222" stroke-width="1.40" stroke-linecap="round" stroke-linejoin="round" />
<polygon points="1785.0,1518.1 1798.1,1516.3 1801.0,1557.5 1805.0,1600.7 1785.0,1605.7" fill="url(#cface)" stroke="#262626" stroke-width="0.60" stroke-linejoin="round" />
<path d="M1789.0,1567.4 L1789.0,1603.9 A6.3,2 0 0 0 1801.6,1603.9 L1801.6,1567.4 Z" fill="url(#pile)" stroke="#262626" stroke-width="0.60" stroke-linejoin="round" />
<polyline points="1788.5,1571.9 1802.0,1571.9" fill="none" stroke="#1c1c1c" stroke-width="1.00" stroke-linecap="round" stroke-linejoin="round" />
<polyline points="1788.5,1591.9 1802.0,1591.9" fill="none" stroke="#1c1c1c" stroke-width="1.20" stroke-linecap="round" stroke-linejoin="round" />
<circle cx="1795.3" cy="1564.4" r="6.6" fill="url(#domeC)" stroke="#333" stroke-width="0.5"/>
<polyline points="1788.5,1568.9 1802.0,1568.9" fill="none" stroke="#2a2a2a" stroke-width="0.90" stroke-linecap="round" stroke-linejoin="round" />
<polygon points="1785.6,1500.0 1796.9,1498.1 1798.1,1516.3 1785.6,1518.1" fill="#858585" stroke="#1a1a1a" stroke-width="1.00" stroke-linejoin="round" />
<polyline points="1791.8,1487.4 1791.8,1498.4" fill="none" stroke="#222" stroke-width="1.40" stroke-linecap="round" stroke-linejoin="round" />
</g>
<g id="captions">
<text x="1311.0" y="940.3" font-size="53.5" text-anchor="middle" letter-spacing="2.0">(a)</text>
<text x="646.8" y="1842.6" font-size="53.5" text-anchor="middle" letter-spacing="0.0">(b)</text>
<text x="1984.4" y="1842.8" font-size="53.5" text-anchor="middle" letter-spacing="0.0">(c)</text>
</g>
</svg>
</body></html>
